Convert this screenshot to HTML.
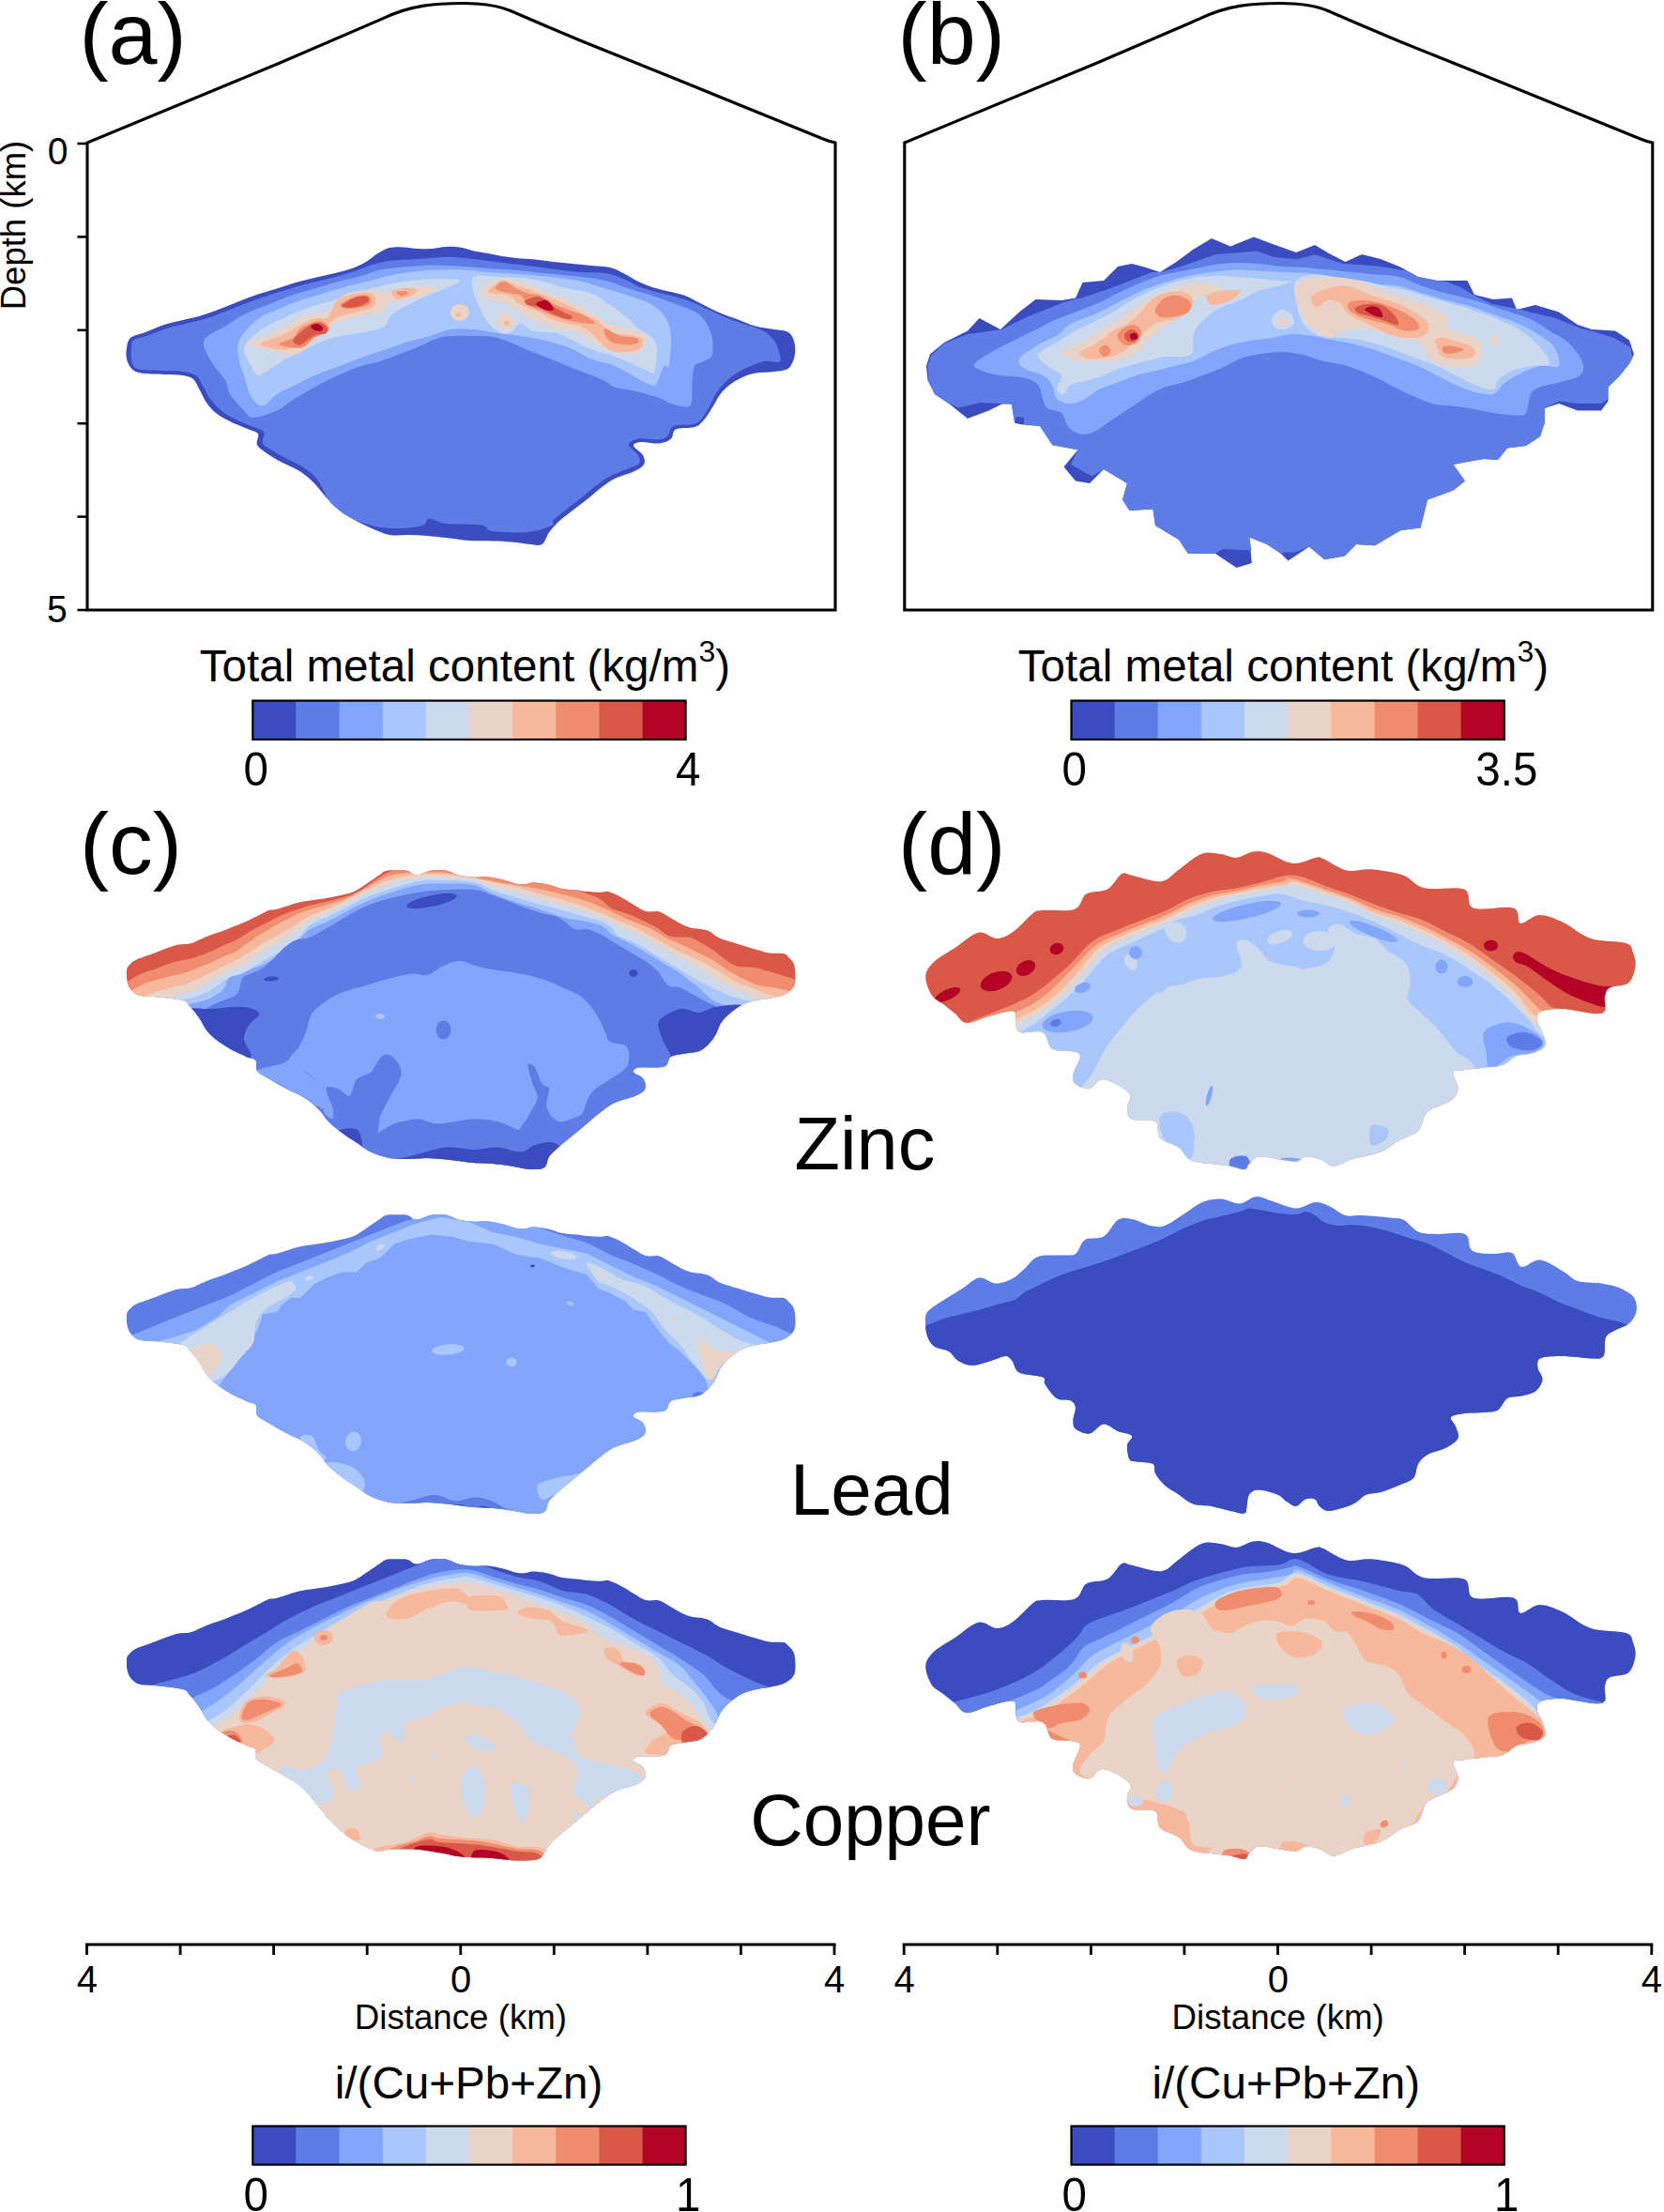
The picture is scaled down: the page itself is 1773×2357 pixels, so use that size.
<!DOCTYPE html><html><head><meta charset="utf-8"><title>Figure</title><style>html,body{margin:0;padding:0;background:#fff;}svg{display:block;}text{font-family:'Liberation Sans', Arial, Helvetica, sans-serif;fill:#000;}</style></head><body>
<svg width="1773" height="2357" viewBox="0 0 1773 2357">
<rect x="0" y="0" width="1773" height="2357" fill="#fff"/>
<g transform="translate(95,240) scale(0.5)">
<path d="M80,262C81.3,254.5 81.3,245.7 88,240C94.7,234.3 108,232.7 120,228C132,223.3 146.7,216.3 160,212C173.3,207.7 186.7,205.3 200,202C213.3,198.7 226.7,196 240,192C253.3,188 266.7,183 280,178C293.3,173 306.7,167.2 320,162C333.3,156.8 346.7,151.5 360,147C373.3,142.5 386.7,139.2 400,135C413.3,130.8 426.7,125.8 440,122C453.3,118.2 466.7,115.2 480,112C493.3,108.8 506.7,106.3 520,103C533.3,99.7 548.3,96.2 560,92C571.7,87.8 580.8,83.3 590,78C599.2,72.7 606.7,65 615,60C623.3,55 630.8,50.2 640,48C649.2,45.8 660,46.7 670,47C680,47.3 690,49.5 700,50C710,50.5 720,50.7 730,50C740,49.3 750,46.5 760,46C770,45.5 780,45.5 790,47C800,48.5 810,52.8 820,55C830,57.2 840,58.2 850,60C860,61.8 870,64.3 880,66C890,67.7 898.3,68.8 910,70C921.7,71.2 936.7,71.7 950,73C963.3,74.3 976.7,76.5 990,78C1003.3,79.5 1016.7,80.7 1030,82C1043.3,83.3 1056.7,84.7 1070,86C1083.3,87.3 1098.3,87.2 1110,90C1121.7,92.8 1130,98 1140,103C1150,108 1160,115.2 1170,120C1180,124.8 1190,128.7 1200,132C1210,135.3 1218.3,137 1230,140C1241.7,143 1258.3,145.8 1270,150C1281.7,154.2 1288.3,159.2 1300,165C1311.7,170.8 1326.7,179.2 1340,185C1353.3,190.8 1366.7,195 1380,200C1393.3,205 1406.7,211.3 1420,215C1433.3,218.7 1448.3,219.8 1460,222C1471.7,224.2 1482.8,223.3 1490,228C1497.2,232.7 1500.8,241.3 1503,250C1505.2,258.7 1505.2,270.8 1503,280C1500.8,289.2 1497.2,299.7 1490,305C1482.8,310.3 1471.7,310.3 1460,312C1448.3,313.7 1431.7,312.8 1420,315C1408.3,317.2 1399.2,320.8 1390,325C1380.8,329.2 1372.5,334.2 1365,340C1357.5,345.8 1350.8,352.5 1345,360C1339.2,367.5 1335.8,375.8 1330,385C1324.2,394.2 1316.7,407.5 1310,415C1303.3,422.5 1300,426.7 1290,430C1280,433.3 1258.3,430.8 1250,435C1241.7,439.2 1245.8,450 1240,455C1234.2,460 1225.8,463.8 1215,465C1204.2,466.2 1184.2,461.2 1175,462C1165.8,462.8 1159.2,465.3 1160,470C1160.8,474.7 1176.3,483.3 1180,490C1183.7,496.7 1185.3,504.2 1182,510C1178.7,515.8 1170.3,520 1160,525C1149.7,530 1131.7,534.2 1120,540C1108.3,545.8 1100,552.5 1090,560C1080,567.5 1070,577 1060,585C1050,593 1040,600.2 1030,608C1020,615.8 1008.3,624.2 1000,632C991.7,639.8 985.8,647 980,655C974.2,663 971.7,675.8 965,680C958.3,684.2 950.8,680.8 940,680C929.2,679.2 913.3,676.2 900,675C886.7,673.8 875,673.5 860,673C845,672.5 826.7,673.2 810,672C793.3,670.8 775,667.7 760,666C745,664.3 733.3,663 720,662C706.7,661 693.3,660.3 680,660C666.7,659.7 653.3,662.5 640,660C626.7,657.5 613.3,650.8 600,645C586.7,639.2 571.7,631.7 560,625C548.3,618.3 539.2,612.5 530,605C520.8,597.5 513.3,589.2 505,580C496.7,570.8 489.2,559.2 480,550C470.8,540.8 461.7,532.5 450,525C438.3,517.5 421.7,511.3 410,505C398.3,498.7 388.7,493.2 380,487C371.3,480.8 361.3,475 358,468C354.7,461 363,450.5 360,445C357,439.5 350,439.5 340,435C330,430.5 311.7,423.8 300,418C288.3,412.2 278.3,406.7 270,400C261.7,393.3 255.8,386.3 250,378C244.2,369.7 239.7,358.3 235,350C230.3,341.7 227.8,333 222,328C216.2,323 210.3,321.7 200,320C189.7,318.3 175,318.8 160,318C145,317.2 121.7,317.2 110,315C98.3,312.8 95,310 90,305C85,300 81.7,292.2 80,285C78.3,277.8 78.7,269.5 80,262Z" fill="#3b4cc0"/>
<path d="M90,262C90.8,255.3 89.2,249.5 95,245C100.8,240.5 113.3,239.2 125,235C136.7,230.8 151.7,224.2 165,220C178.3,215.8 191.7,213.3 205,210C218.3,206.7 231.7,204 245,200C258.3,196 271.7,191 285,186C298.3,181 311.7,175.2 325,170C338.3,164.8 351.7,159.7 365,155C378.3,150.3 391.7,146.2 405,142C418.3,137.8 431.7,133.7 445,130C458.3,126.3 471.7,123.3 485,120C498.3,116.7 511.7,113.7 525,110C538.3,106.3 552.5,102.2 565,98C577.5,93.8 587.5,88.7 600,85C612.5,81.3 623.3,78.2 640,76C656.7,73.8 680,73.3 700,72C720,70.7 743.3,68.3 760,68C776.7,67.7 785,68.7 800,70C815,71.3 833.3,74 850,76C866.7,78 883.3,80 900,82C916.7,84 933.3,85.8 950,88C966.7,90.2 983.3,93 1000,95C1016.7,97 1033.3,98.8 1050,100C1066.7,101.2 1085,99.5 1100,102C1115,104.5 1128.3,110.3 1140,115C1151.7,119.7 1160,125.8 1170,130C1180,134.2 1188.3,136.7 1200,140C1211.7,143.3 1226.7,146.3 1240,150C1253.3,153.7 1266.7,157 1280,162C1293.3,167 1306.7,174 1320,180C1333.3,186 1346.7,192.7 1360,198C1373.3,203.3 1388.3,208 1400,212C1411.7,216 1421.7,218.2 1430,222C1438.3,225.8 1444.2,229.5 1450,235C1455.8,240.5 1461.3,245.8 1465,255C1468.7,264.2 1476.2,284.2 1472,290C1467.8,295.8 1450.3,288.3 1440,290C1429.7,291.7 1420,295.8 1410,300C1400,304.2 1389.2,309.2 1380,315C1370.8,320.8 1362.5,327.5 1355,335C1347.5,342.5 1340.8,350.8 1335,360C1329.2,369.2 1325.8,380.3 1320,390C1314.2,399.7 1306.7,412.2 1300,418C1293.3,423.8 1289.2,423.3 1280,425C1270.8,426.7 1253,423.8 1245,428C1237,432.2 1237.8,445.2 1232,450C1226.2,454.8 1220.3,456.2 1210,457C1199.7,457.8 1180,453.2 1170,455C1160,456.8 1150,462.2 1150,468C1150,473.8 1166.3,483.3 1170,490C1173.7,496.7 1175.3,503.3 1172,508C1168.7,512.7 1160.3,513.5 1150,518C1139.7,522.5 1121.7,528.8 1110,535C1098.3,541.2 1090,547.5 1080,555C1070,562.5 1060,572 1050,580C1040,588 1030,595 1020,603C1010,611 995.8,621.8 990,628C984.2,634.2 994.2,635.7 985,640C975.8,644.3 955.8,652 935,654C914.2,656 876.7,654.5 860,652C843.3,649.5 851.7,641.7 835,639C818.3,636.3 778.3,638.3 760,636C741.7,633.7 733.3,624.3 725,625C716.7,625.7 720.8,636.5 710,640C699.2,643.5 676.7,645.7 660,646C643.3,646.3 626.7,645.5 610,642C593.3,638.5 573.3,631.2 560,625C546.7,618.8 538.3,611.7 530,605C521.7,598.3 517.5,595.8 510,585C502.5,574.2 494.2,551.7 485,540C475.8,528.3 465.8,522.2 455,515C444.2,507.8 430.8,502.8 420,497C409.2,491.2 398.3,485.3 390,480C381.7,474.7 373,471.7 370,465C367,458.3 376.2,446.2 372,440C367.8,433.8 356.2,433 345,428C333.8,423 316.2,416 305,410C293.8,404 285.8,398.7 278,392C270.2,385.3 264,378.3 258,370C252,361.7 247,350.3 242,342C237,333.7 235,325 228,320C221,315 211.3,313.7 200,312C188.7,310.3 175,310.7 160,310C145,309.3 120.8,309.7 110,308C99.2,306.3 98.3,303.8 95,300C91.7,296.2 90.8,291.3 90,285C89.2,278.7 89.2,268.7 90,262Z" fill="#5d7ce6"/>
<path d="M245,245C250,232.5 275.8,224.2 290,215C304.2,205.8 315,197.5 330,190C345,182.5 363.3,176.7 380,170C396.7,163.3 413.3,155.8 430,150C446.7,144.2 463.3,140 480,135C496.7,130 513.3,124.5 530,120C546.7,115.5 565,112.2 580,108C595,103.8 603.3,98.3 620,95C636.7,91.7 660,89.7 680,88C700,86.3 720,85 740,85C760,85 781.7,86.8 800,88C818.3,89.2 833.3,90.8 850,92C866.7,93.2 883.3,93.7 900,95C916.7,96.3 933.3,98.3 950,100C966.7,101.7 983.3,103.3 1000,105C1016.7,106.7 1033.3,107.8 1050,110C1066.7,112.2 1083.3,113.8 1100,118C1116.7,122.2 1133.3,129.7 1150,135C1166.7,140.3 1183.3,144.5 1200,150C1216.7,155.5 1233.3,161.3 1250,168C1266.7,174.7 1287.5,179.7 1300,190C1312.5,200.3 1320.3,215.8 1325,230C1329.7,244.2 1330.5,265 1328,275C1325.5,285 1316.3,285.8 1310,290C1303.7,294.2 1294.2,291.7 1290,300C1285.8,308.3 1286.7,325.8 1285,340C1283.3,354.2 1287.5,378.3 1280,385C1272.5,391.7 1250,382.5 1240,380C1230,377.5 1231.7,374.2 1220,370C1208.3,365.8 1186.7,359.2 1170,355C1153.3,350.8 1132.5,349.2 1120,345C1107.5,340.8 1111.7,337.5 1095,330C1078.3,322.5 1045,310 1020,300C995,290 970,280 945,270C920,260 890.8,245.7 870,240C849.2,234.3 836.7,236.7 820,236C803.3,235.3 783.3,235 770,236C756.7,237 751.7,238 740,242C728.3,246 713.3,254.5 700,260C686.7,265.5 673.3,270 660,275C646.7,280 633.3,285.8 620,290C606.7,294.2 595,295 580,300C565,305 546.7,312.5 530,320C513.3,327.5 496.7,335.8 480,345C463.3,354.2 443.3,366.7 430,375C416.7,383.3 413.3,389.2 400,395C386.7,400.8 361.7,410 350,410C338.3,410 338.3,403.3 330,395C321.7,386.7 306.7,370.8 300,360C293.3,349.2 296.7,341.7 290,330C283.3,318.3 267.5,304.2 260,290C252.5,275.8 240,257.5 245,245Z" fill="#82a6fb"/>
<path d="M320,245C326.7,230 346.7,210.8 360,200C373.3,189.2 385,186.7 400,180C415,173.3 433.3,165.8 450,160C466.7,154.2 483.3,150 500,145C516.7,140 533.3,134.5 550,130C566.7,125.5 583.3,122.2 600,118C616.7,113.8 633.3,108.3 650,105C666.7,101.7 683.3,99.7 700,98C716.7,96.3 733.3,95.5 750,95C766.7,94.5 783.3,94.2 800,95C816.7,95.8 833.3,98.7 850,100C866.7,101.3 883.3,101.8 900,103C916.7,104.2 933.3,105.5 950,107C966.7,108.5 983.3,109.8 1000,112C1016.7,114.2 1033.3,116.2 1050,120C1066.7,123.8 1083.3,130 1100,135C1116.7,140 1133.3,144.2 1150,150C1166.7,155.8 1186.7,161.7 1200,170C1213.3,178.3 1223.3,188.3 1230,200C1236.7,211.7 1239.2,223.3 1240,240C1240.8,256.7 1237.5,290 1235,300C1232.5,310 1229.2,294.2 1225,300C1220.8,305.8 1215,328.3 1210,335C1205,341.7 1210,345.8 1195,340C1180,334.2 1140.8,309.2 1120,300C1099.2,290.8 1086.7,291.7 1070,285C1053.3,278.3 1040.8,267.5 1020,260C999.2,252.5 970,245 945,240C920,235 890.8,233 870,230C849.2,227 836.7,223.3 820,222C803.3,220.7 786.7,219.3 770,222C753.3,224.7 735,233.7 720,238C705,242.3 693.3,244 680,248C666.7,252 653.3,257.5 640,262C626.7,266.5 613.3,270.3 600,275C586.7,279.7 573.3,285 560,290C546.7,295 533.3,300 520,305C506.7,310 493.3,314.2 480,320C466.7,325.8 453.3,333.3 440,340C426.7,346.7 411.7,352.5 400,360C388.3,367.5 379.2,384.2 370,385C360.8,385.8 351.7,375.8 345,365C338.3,354.2 334.2,332.5 330,320C325.8,307.5 321.7,302.5 320,290C318.3,277.5 313.3,260 320,245Z" fill="#aac7fd"/>
<path d="M330,265C330,255 336.7,248.3 345,240C353.3,231.7 367.5,222.5 380,215C392.5,207.5 405,201.7 420,195C435,188.3 453.3,180.8 470,175C486.7,169.2 503.3,165 520,160C536.7,155 553.3,150 570,145C586.7,140 603.3,134.2 620,130C636.7,125.8 653.3,122.5 670,120C686.7,117.5 705,115.8 720,115C735,114.2 748.3,114.5 760,115C771.7,115.5 790,114.7 790,118C790,121.3 771.7,129.7 760,135C748.3,140.3 731.7,145 720,150C708.3,155 700,160 690,165C680,170 668.3,175 660,180C651.7,185 645,189.2 640,195C635,200.8 636.7,210 630,215C623.3,220 611.7,222.2 600,225C588.3,227.8 573.3,229.5 560,232C546.7,234.5 533.3,236.2 520,240C506.7,243.8 493.3,249.2 480,255C466.7,260.8 451.7,269.2 440,275C428.3,280.8 420,284.2 410,290C400,295.8 388.3,305 380,310C371.7,315 365.8,321.7 360,320C354.2,318.3 350,309.2 345,300C340,290.8 330,275 330,265Z" fill="#cdd9ec"/>
<path d="M820,110C828.3,104.2 849.2,109.2 870,110C890.8,110.8 920,110.8 945,115C970,119.2 999.2,130 1020,135C1040.8,140 1055,139.2 1070,145C1085,150.8 1097.5,161.7 1110,170C1122.5,178.3 1135,186.7 1145,195C1155,203.3 1161.7,213.3 1170,220C1178.3,226.7 1188.3,228.3 1195,235C1201.7,241.7 1208.3,247.5 1210,260C1211.7,272.5 1207.5,301.3 1205,310C1202.5,318.7 1209.2,317 1195,312C1180.8,307 1140.8,287.8 1120,280C1099.2,272.2 1086.7,271.7 1070,265C1053.3,258.3 1032.5,245.8 1020,240C1007.5,234.2 1007.5,232.5 995,230C982.5,227.5 957.5,228.3 945,225C932.5,221.7 928.3,209.2 920,210C911.7,210.8 903.3,227.5 895,230C886.7,232.5 878.3,230 870,225C861.7,220 853.3,213.3 845,200C836.7,186.7 824.2,160 820,145C815.8,130 811.7,115.8 820,110Z" fill="#cdd9ec"/>
<ellipse cx="790" cy="186" rx="20" ry="18" transform="rotate(0 790 186)" fill="#ead4c8"/>
<ellipse cx="786" cy="190" rx="6" ry="5" transform="rotate(0 786 190)" fill="#f7b89c"/>
<path d="M340,250C343.3,245.8 368.3,240 380,235C391.7,230 400.8,225 410,220C419.2,215 426.7,209.6 435,205C443.3,200.4 451.7,195 460,192.5C468.3,190 476.7,191.2 485,190C493.3,188.8 501.7,190.8 510,185C518.3,179.2 526.7,162.1 535,155C543.3,147.9 548.3,145.4 560,142.5C571.7,139.6 594.2,137.1 605,137.5C615.8,137.9 620,140.4 625,145C630,149.6 635,158.3 635,165C635,171.7 633.3,180.4 625,185C616.7,189.6 600,189.2 585,192.5C570,195.8 547.5,200.4 535,205C522.5,209.6 518.3,214.2 510,220C501.7,225.8 493.3,232.5 485,240C476.7,247.5 468.3,259.2 460,265C451.7,270.8 445,274.2 435,275C425,275.8 412.5,272.5 400,270C387.5,267.5 370,263.3 360,260C350,256.7 336.7,254.2 340,250Z" fill="#ead4c8"/>
<path d="M620,150C623.3,145.8 636.7,143 650,140C663.3,137 685,133.7 700,132C715,130.3 736.7,127.3 740,130C743.3,132.7 728.3,143.8 720,148C711.7,152.2 701.7,152.7 690,155C678.3,157.3 660,160.3 650,162C640,163.7 635,167 630,165C625,163 616.7,154.2 620,150Z" fill="#ead4c8"/>
<path d="M835,140C839.2,133.3 855.8,118.3 870,115C884.2,111.7 903.3,115.8 920,120C936.7,124.2 953.3,133.3 970,140C986.7,146.7 1003.3,152.5 1020,160C1036.7,167.5 1055,176.7 1070,185C1085,193.3 1091.7,202.5 1110,210C1128.3,217.5 1167.5,222.5 1180,230C1192.5,237.5 1188.3,247.5 1185,255C1181.7,262.5 1175,274.2 1160,275C1145,275.8 1114.2,267.5 1095,260C1075.8,252.5 1061.7,236.7 1045,230C1028.3,223.3 1011.7,225 995,220C978.3,215 959.2,206.7 945,200C930.8,193.3 920.8,185.8 910,180C899.2,174.2 890.8,169.2 880,165C869.2,160.8 852.5,159.2 845,155C837.5,150.8 830.8,146.7 835,140Z" fill="#ead4c8"/>
<path d="M880,185C884.2,182.5 890.8,185.8 895,190C899.2,194.2 905,205 905,210C905,215 899.2,218.7 895,220C890.8,221.3 884.2,220.5 880,218C875.8,215.5 870,210.5 870,205C870,199.5 875.8,187.5 880,185Z" fill="#ead4c8"/>
<ellipse cx="890" cy="209" rx="6" ry="6" transform="rotate(0 890 209)" fill="#f7b89c"/>
<path d="M365,252.5C368.3,247.9 396.7,241.2 410,235C423.3,228.8 434.2,220.8 445,215C455.8,209.2 465,202.9 475,200C485,197.1 498.3,200 505,197.5C511.7,195 510.8,191.2 515,185C519.2,178.8 522.5,166.2 530,160C537.5,153.8 549.2,150.2 560,147.5C570.8,144.8 586.7,142.8 595,144C603.3,145.2 608.3,149.8 610,155C611.7,160.2 611.7,170 605,175C598.3,180 582.5,181.7 570,185C557.5,188.3 540,190.8 530,195C520,199.2 517.5,204.2 510,210C502.5,215.8 495,222.5 485,230C475,237.5 460.8,249.2 450,255C439.2,260.8 430,263.8 420,265C410,266.2 399.2,264.6 390,262.5C380.8,260.4 361.7,257.1 365,252.5Z" fill="#f7b89c"/>
<path d="M645,140C648.3,136.1 665.8,134.4 675,134C684.2,133.6 698.3,134.8 700,137.5C701.7,140.2 692.5,146.7 685,150C677.5,153.3 661.7,159.2 655,157.5C648.3,155.8 641.7,143.9 645,140Z" fill="#f7b89c"/>
<path d="M855,135C859.2,130.4 870.8,118.8 880,117.5C889.2,116.2 899.2,123.8 910,127.5C920.8,131.2 932.5,135.4 945,140C957.5,144.6 972.5,150 985,155C997.5,160 1008.3,164.2 1020,170C1031.7,175.8 1045,185 1055,190C1065,195 1073.3,195.8 1080,200C1086.7,204.2 1088.3,210 1095,215C1101.7,220 1109.2,226.7 1120,230C1130.8,233.3 1150,232.5 1160,235C1170,237.5 1178.3,240 1180,245C1181.7,250 1180,260.8 1170,265C1160,269.2 1132.5,271.7 1120,270C1107.5,268.3 1103.3,261.7 1095,255C1086.7,248.3 1078.3,236.7 1070,230C1061.7,223.3 1053.3,218.3 1045,215C1036.7,211.7 1030,212.5 1020,210C1010,207.5 995,204.2 985,200C975,195.8 970.8,190 960,185C949.2,180 930.8,175.8 920,170C909.2,164.2 905.8,154.2 895,150C884.2,145.8 861.7,147.5 855,145C848.3,142.5 850.8,139.6 855,135Z" fill="#f7b89c"/>
<path d="M405,252.5C406.7,249.2 427.5,245.4 435,240C442.5,234.6 441.7,225.8 450,220C458.3,214.2 475.8,206.7 485,205C494.2,203.3 500.8,206.7 505,210C509.2,213.3 514.2,220 510,225C505.8,230 489.2,234.2 480,240C470.8,245.8 464.2,256.7 455,260C445.8,263.3 433.3,261.2 425,260C416.7,258.8 403.3,255.8 405,252.5Z" fill="#f18d6f"/>
<path d="M535,170C537.5,165.8 555,155.8 565,152.5C575,149.2 589.2,147.9 595,150C600.8,152.1 602.5,160.8 600,165C597.5,169.2 588.3,172.9 580,175C571.7,177.1 557.5,178.3 550,177.5C542.5,176.7 532.5,174.2 535,170Z" fill="#f18d6f"/>
<path d="M655,142.5C655.8,140.7 665.8,139.6 670,140C674.2,140.4 680.8,143.2 680,145C679.2,146.8 669.2,151.4 665,151C660.8,150.6 654.2,144.3 655,142.5Z" fill="#f18d6f"/>
<path d="M865,135C863.3,130.8 877.5,120 885,120C892.5,120 901.7,130.8 910,135C918.3,139.2 926.7,142.5 935,145C943.3,147.5 951.7,146.7 960,150C968.3,153.3 975,160 985,165C995,170 1009.2,175.8 1020,180C1030.8,184.2 1040.8,185.8 1050,190C1059.2,194.2 1071.7,201.7 1075,205C1078.3,208.3 1077.5,210 1070,210C1062.5,210 1042.5,207.5 1030,205C1017.5,202.5 1005,198.3 995,195C985,191.7 980,189.2 970,185C960,180.8 943.3,175.8 935,170C926.7,164.2 926.7,154.2 920,150C913.3,145.8 904.2,147.5 895,145C885.8,142.5 866.7,139.2 865,135Z" fill="#f18d6f"/>
<path d="M1100,220C1105,220 1119.2,231.7 1130,235C1140.8,238.3 1158.3,237.5 1165,240C1171.7,242.5 1172.5,247.5 1170,250C1167.5,252.5 1159.2,255 1150,255C1140.8,255 1123.3,253.3 1115,250C1106.7,246.7 1102.5,240 1100,235C1097.5,230 1095,220 1100,220Z" fill="#f18d6f"/>
<path d="M435,245C436.7,239.2 451.7,226.2 460,220C468.3,213.8 477.5,208.3 485,207.5C492.5,206.7 501.7,211.2 505,215C508.3,218.8 509.2,226.7 505,230C500.8,233.3 489.2,230.8 480,235C470.8,239.2 457.5,253.3 450,255C442.5,256.7 433.3,250.8 435,245Z" fill="#d95847"/>
<path d="M540,170C542.5,166.5 556.7,158.2 565,155C573.3,151.8 585,149.8 590,151C595,152.2 597.5,158.9 595,162.5C592.5,166.1 582.5,170.2 575,172.5C567.5,174.8 555.8,176.4 550,176C544.2,175.6 537.5,173.5 540,170Z" fill="#d95847"/>
<path d="M930,160C934.2,157.1 950.8,150.8 960,152.5C969.2,154.2 976.7,164.6 985,170C993.3,175.4 1002.5,180.8 1010,185C1017.5,189.2 1028.3,192.5 1030,195C1031.7,197.5 1026.7,200.8 1020,200C1013.3,199.2 1000,194.2 990,190C980,185.8 969.2,178.3 960,175C950.8,171.7 940,172.5 935,170C930,167.5 925.8,162.9 930,160Z" fill="#d95847"/>
<path d="M472.5,215C473.3,212.7 480.8,209.6 485,210C489.2,210.4 495.8,215 497.5,217.5C499.2,220 497.9,223.9 495,225C492.1,226.1 483.8,225.7 480,224C476.2,222.3 471.7,217.3 472.5,215Z" fill="#b40426"/>
<path d="M952.5,167.5C953.3,164.2 968.8,157.9 975,160C981.2,162.1 990.8,176.7 990,180C989.2,183.3 976.2,182.1 970,180C963.8,177.9 951.7,170.8 952.5,167.5Z" fill="#b40426"/>
</g>
<g transform="translate(941,240) scale(0.5)">
<path d="M92,300 100,275 130,250 180,225 205,198 250,222 290,185 325,158 380,160 410,155 425,122 470,118 500,88 530,82 560,90 590,100 625,78 660,52 700,28 740,45 790,25 830,40 880,58 920,42 950,60 985,78 1020,62 1060,72 1100,88 1140,110 1180,118 1245,118 1260,148 1300,158 1340,155 1350,180 1370,175 1390,170 1440,185 1480,212 1510,222 1560,225 1590,245 1600,275 1590,295 1570,320 1545,345 1545,375 1530,395 1480,395 1440,380 1410,390 1410,420 1400,450 1370,470 1330,475 1310,500 1280,498 1240,505 1215,510 1240,545 1215,565 1160,585 1145,645 1103,650 1048,682.5 1008,680 983,705 940.5,712.5 908,685 863,715 848,700 818,680 780.5,665 785.5,720 753,730 708,700 650,700 630,670 580,640 575,605 525,608 510,585 520,550 470,520 440,550 410,545 385,515 415,478.6 361,468.5 334,428 293.8,424.7 280.3,421.3 273.6,381 253.4,381 225,395 180,412 140,380 110,360 95,330Z" fill="#3b4cc0"/>
<path d="M95,300 102,278 130,252 180,232 253,222 303,197 378,167 410,157 423,155 483,135 573,100 590,100 628,90 708,62.5 798,55 832,68 882,72.5 919.5,62.5 982,82.5 992,82.5 1057,87.5 1117,97.5 1140,110 1180,118 1199.5,120 1232,132.5 1244.5,140 1260,150 1297,167.5 1347,177.5 1360,180 1377,185 1432,197.5 1487,220 1509.5,225 1557,240 1592,260 1597,282.5 1590,295 1570,320 1545,345 1543,372 1530,380 1480,380 1440,375 1410,390 1410,420 1400,450 1370,470 1330,475 1310,500 1280,498 1240,505 1215,510 1240,545 1215,565 1160,585 1145,645 1103,650 1048,682.5 1008,680 983,705 940.5,712.5 908,685 878,697 853,697 848,700 818,680 780.5,665 785,693 723,690 708,700 650,700 630,670 580,640 575,605 525,608 510,585 520,550 470,520 445,535 400,510 415,478.6 361,468.5 334,428 300,424 300,410 284,408 280.3,421.3 273.6,381 253,380 206,378 161,389 140,380 110,360 97,330Z" fill="#5d7ce6"/>
<path d="M195,295C200,287.5 224.2,274.2 240,265C255.8,255.8 275,247.5 290,240C305,232.5 316.7,226.7 330,220C343.3,213.3 356.7,205.8 370,200C383.3,194.2 395,190.8 410,185C425,179.2 443.3,172.5 460,165C476.7,157.5 493.3,147.8 510,140C526.7,132.2 545,123.8 560,118C575,112.2 585,108.8 600,105C615,101.2 633.3,98.3 650,95C666.7,91.7 683.3,87.5 700,85C716.7,82.5 733.3,80.5 750,80C766.7,79.5 783.3,80.7 800,82C816.7,83.3 833.3,86.7 850,88C866.7,89.3 883.3,88.8 900,90C916.7,91.2 933.3,93.3 950,95C966.7,96.7 983.3,98.3 1000,100C1016.7,101.7 1033.3,103.3 1050,105C1066.7,106.7 1083.3,105.8 1100,110C1116.7,114.2 1133.3,124.2 1150,130C1166.7,135.8 1181.7,140 1200,145C1218.3,150 1240,154.2 1260,160C1280,165.8 1300,173.3 1320,180C1340,186.7 1363.3,192.5 1380,200C1396.7,207.5 1406.7,216.7 1420,225C1433.3,233.3 1448.3,239.2 1460,250C1471.7,260.8 1485.8,278.3 1490,290C1494.2,301.7 1493.3,312.5 1485,320C1476.7,327.5 1454.2,330.8 1440,335C1425.8,339.2 1410,340.8 1400,345C1390,349.2 1385,350.8 1380,360C1375,369.2 1375,392.5 1370,400C1365,407.5 1361.7,405 1350,405C1338.3,405 1316.7,402.5 1300,400C1283.3,397.5 1265,392.5 1250,390C1235,387.5 1223.3,386.7 1210,385C1196.7,383.3 1185,384.2 1170,380C1155,375.8 1135,366.7 1120,360C1105,353.3 1093.3,346.7 1080,340C1066.7,333.3 1055,326.7 1040,320C1025,313.3 1006.7,305 990,300C973.3,295 956.7,294.2 940,290C923.3,285.8 905,278.3 890,275C875,271.7 865,270 850,270C835,270 815,272.5 800,275C785,277.5 773.3,280 760,285C746.7,290 733.3,299.2 720,305C706.7,310.8 693.3,315 680,320C666.7,325 653.3,330.8 640,335C626.7,339.2 611.7,340.8 600,345C588.3,349.2 580,354.2 570,360C560,365.8 550,373.3 540,380C530,386.7 520,393.3 510,400C500,406.7 490,413.3 480,420C470,426.7 460,435.8 450,440C440,444.2 429.2,446.7 420,445C410.8,443.3 401.7,437.5 395,430C388.3,422.5 387.5,406.7 380,400C372.5,393.3 356.7,395 350,390C343.3,385 343.3,378.3 340,370C336.7,361.7 336.7,347.5 330,340C323.3,332.5 313.3,328.3 300,325C286.7,321.7 265,322.5 250,320C235,317.5 219.2,314.2 210,310C200.8,305.8 190,302.5 195,295Z" fill="#82a6fb"/>
<path d="M290,285C295,276.7 316.7,263.3 330,255C343.3,246.7 358.3,242.5 370,235C381.7,227.5 386.7,217.5 400,210C413.3,202.5 433.3,197.5 450,190C466.7,182.5 483.3,173.3 500,165C516.7,156.7 533.3,147.2 550,140C566.7,132.8 583.3,127.3 600,122C616.7,116.7 633.3,111.7 650,108C666.7,104.3 683.3,102.2 700,100C716.7,97.8 733.3,95.5 750,95C766.7,94.5 783.3,96.2 800,97C816.7,97.8 833.3,99.2 850,100C866.7,100.8 883.3,100.7 900,102C916.7,103.3 933.3,105.8 950,108C966.7,110.2 983.3,112.2 1000,115C1016.7,117.8 1033.3,122.5 1050,125C1066.7,127.5 1083.3,126.7 1100,130C1116.7,133.3 1133.3,140 1150,145C1166.7,150 1183.3,155.5 1200,160C1216.7,164.5 1233.3,167 1250,172C1266.7,177 1283.3,184 1300,190C1316.7,196 1333.3,200.5 1350,208C1366.7,215.5 1386.7,226.3 1400,235C1413.3,243.7 1423.3,249.2 1430,260C1436.7,270.8 1445,293.3 1440,300C1435,306.7 1415,296.7 1400,300C1385,303.3 1363.3,313.3 1350,320C1336.7,326.7 1328.3,333.3 1320,340C1311.7,346.7 1310,357.5 1300,360C1290,362.5 1273.3,358.3 1260,355C1246.7,351.7 1233.3,345.8 1220,340C1206.7,334.2 1193.3,326.7 1180,320C1166.7,313.3 1153.3,305.8 1140,300C1126.7,294.2 1113.3,290 1100,285C1086.7,280 1075,275 1060,270C1045,265 1026.7,259.2 1010,255C993.3,250.8 976.7,248.3 960,245C943.3,241.7 925,237.2 910,235C895,232.8 883.3,231.2 870,232C856.7,232.8 843.3,237.8 830,240C816.7,242.2 805,242.5 790,245C775,247.5 755,250.8 740,255C725,259.2 713.3,264.2 700,270C686.7,275.8 673.3,285 660,290C646.7,295 633.3,296.7 620,300C606.7,303.3 593.3,306.7 580,310C566.7,313.3 553.3,315.8 540,320C526.7,324.2 513.3,330 500,335C486.7,340 471.7,344.2 460,350C448.3,355.8 440,365 430,370C420,375 410,380 400,380C390,380 376.7,376.7 370,370C363.3,363.3 365,348.3 360,340C355,331.7 350,325.8 340,320C330,314.2 308.3,310.8 300,305C291.7,299.2 285,293.3 290,285Z" fill="#aac7fd"/>
<path d="M330,275C333.3,266.7 356.7,258.3 370,250C383.3,241.7 396.7,232.5 410,225C423.3,217.5 436.7,211.7 450,205C463.3,198.3 476.7,192.5 490,185C503.3,177.5 516.7,167.5 530,160C543.3,152.5 556.7,145.8 570,140C583.3,134.2 595,129.7 610,125C625,120.3 641.7,114.8 660,112C678.3,109.2 700,108 720,108C740,108 760,110.3 780,112C800,113.7 825,116.7 840,118C855,119.3 870,118 870,120C870,122 851.7,126.7 840,130C828.3,133.3 813.3,135 800,140C786.7,145 773.3,154.2 760,160C746.7,165.8 731.7,169.2 720,175C708.3,180.8 698.3,188.3 690,195C681.7,201.7 675,207.5 670,215C665,222.5 661.7,230.8 660,240C658.3,249.2 663.3,263.3 660,270C656.7,276.7 650,278.3 640,280C630,281.7 613.3,278.3 600,280C586.7,281.7 573.3,286.7 560,290C546.7,293.3 533.3,295.8 520,300C506.7,304.2 493.3,310 480,315C466.7,320 453.3,325.8 440,330C426.7,334.2 409.2,335 400,340C390.8,345 390,358.3 385,360C380,361.7 370.8,356.7 370,350C369.2,343.3 383.3,328.3 380,320C376.7,311.7 358.3,307.5 350,300C341.7,292.5 326.7,283.3 330,275Z" fill="#cdd9ec"/>
<path d="M880,118C886.7,108.8 905,106 920,105C935,104 953.3,109.8 970,112C986.7,114.2 1003.3,115 1020,118C1036.7,121 1053.3,126.3 1070,130C1086.7,133.7 1103.3,135.8 1120,140C1136.7,144.2 1153.3,150 1170,155C1186.7,160 1203.3,165 1220,170C1236.7,175 1253.3,179.2 1270,185C1286.7,190.8 1305,198.3 1320,205C1335,211.7 1346.7,215.8 1360,225C1373.3,234.2 1390,248.3 1400,260C1410,271.7 1423.3,288.3 1420,295C1416.7,301.7 1393.3,297.5 1380,300C1366.7,302.5 1351.7,305 1340,310C1328.3,315 1316.7,323.3 1310,330C1303.3,336.7 1308.3,348.3 1300,350C1291.7,351.7 1273.3,345 1260,340C1246.7,335 1233.3,326.7 1220,320C1206.7,313.3 1193.3,305.8 1180,300C1166.7,294.2 1153.3,290 1140,285C1126.7,280 1113.3,275 1100,270C1086.7,265 1073.3,259.2 1060,255C1046.7,250.8 1033.3,247.5 1020,245C1006.7,242.5 993.3,241.2 980,240C966.7,238.8 951.7,240.5 940,238C928.3,235.5 918.3,231.3 910,225C901.7,218.7 895,210.8 890,200C885,189.2 881.7,173.7 880,160C878.3,146.3 873.3,127.2 880,118Z" fill="#cdd9ec"/>
<path d="M830,195C833,189.2 843.3,180.8 850,180C856.7,179.2 865.8,185 870,190C874.2,195 877.5,204.7 875,210C872.5,215.3 862.2,221.2 855,222C847.8,222.8 836.2,219.5 832,215C827.8,210.5 827,200.8 830,195Z" fill="#cdd9ec"/>
<path d="M380,270C383.3,264.2 406.7,257 420,250C433.3,243 446.7,236.3 460,228C473.3,219.7 486.7,208.8 500,200C513.3,191.2 526.7,183.3 540,175C553.3,166.7 566.7,156.7 580,150C593.3,143.3 606.7,139.2 620,135C633.3,130.8 646.7,126.7 660,125C673.3,123.3 690,123.3 700,125C710,126.7 721.7,130.8 720,135C718.3,139.2 700,145.8 690,150C680,154.2 668.3,155 660,160C651.7,165 646.7,173.3 640,180C633.3,186.7 626.7,194.2 620,200C613.3,205.8 606.7,210 600,215C593.3,220 586.7,224.2 580,230C573.3,235.8 566.7,243.3 560,250C553.3,256.7 548.3,264.2 540,270C531.7,275.8 521.7,281.7 510,285C498.3,288.3 483.3,289.2 470,290C456.7,290.8 441.7,290.8 430,290C418.3,289.2 408.3,288.3 400,285C391.7,281.7 376.7,275.8 380,270Z" fill="#ead4c8"/>
<path d="M882,125C897,112.1 948.7,109.2 982,112.5C1015.3,115.8 1052.8,135.4 1082,145C1111.2,154.6 1137,161.7 1157,170C1177,178.3 1194.5,186.7 1202,195C1209.5,203.3 1192,212.5 1202,220C1212,227.5 1249.5,232.5 1262,240C1274.5,247.5 1277.8,255 1277,265C1276.2,275 1272.8,295 1257,300C1241.2,305 1201.2,303.3 1182,295C1162.8,286.7 1156.2,259.2 1142,250C1127.8,240.8 1115.3,245 1097,240C1078.7,235 1051.2,222.5 1032,220C1012.8,217.5 995.3,221.7 982,225C968.7,228.3 962.8,240.8 952,240C941.2,239.2 927,228.3 917,220C907,211.7 897.8,205.8 892,190C886.2,174.2 867,137.9 882,125Z" fill="#ead4c8"/>
<ellipse cx="1303" cy="245" rx="8" ry="13" transform="rotate(-20 1303 245)" fill="#ead4c8"/>
<ellipse cx="852" cy="205" rx="9" ry="9" transform="rotate(0 852 205)" fill="#ead4c8"/>
<path d="M420,270C425,264.3 448.3,255.5 460,248C471.7,240.5 480,231.3 490,225C500,218.7 510,216.7 520,210C530,203.3 541.7,193.3 550,185C558.3,176.7 561.7,166.7 570,160C578.3,153.3 588.3,148 600,145C611.7,142 630,139.5 640,142C650,144.5 658.3,152.8 660,160C661.7,167.2 656.7,178.3 650,185C643.3,191.7 631.7,195.8 620,200C608.3,204.2 590.8,205 580,210C569.2,215 563.3,222.5 555,230C546.7,237.5 539.2,247.5 530,255C520.8,262.5 511.7,270 500,275C488.3,280 471.7,283.8 460,285C448.3,286.2 436.7,284.5 430,282C423.3,279.5 415,275.7 420,270Z" fill="#f7b89c"/>
<path d="M690,150C693.3,145 708.3,141.7 720,140C731.7,138.3 756.7,136.7 760,140C763.3,143.3 750,155 740,160C730,165 708.3,171.7 700,170C691.7,168.3 686.7,155 690,150Z" fill="#f7b89c"/>
<path d="M914.5,150C920.3,142.9 944.1,135.8 957,132.5C969.9,129.2 977.8,127.1 992,130C1006.2,132.9 1025.3,144.2 1042,150C1058.7,155.8 1077,159.2 1092,165C1107,170.8 1120.3,177.5 1132,185C1143.7,192.5 1158.7,201.7 1162,210C1165.3,218.3 1160.3,230 1152,235C1143.7,240 1125.3,240.8 1112,240C1098.7,239.2 1085.3,235 1072,230C1058.7,225 1045.3,216.7 1032,210C1018.7,203.3 1002,197.5 992,190C982,182.5 979.5,170 972,165C964.5,160 955.3,158.3 947,160C938.7,161.7 927.4,176.7 922,175C916.6,173.3 908.7,157.1 914.5,150Z" fill="#f7b89c"/>
<path d="M1177,245C1178.7,240.8 1180.3,238.3 1192,240C1203.7,241.7 1235.3,250 1247,255C1258.7,260 1261.2,265.4 1262,270C1262.8,274.6 1258.7,280 1252,282.5C1245.3,285 1232,285.4 1222,285C1212,284.6 1198.7,283.3 1192,280C1185.3,276.7 1184.5,270.8 1182,265C1179.5,259.2 1175.3,249.2 1177,245Z" fill="#f7b89c"/>
<path d="M580,180C581.7,173.3 591.7,160 600,155C608.3,150 620.8,148.3 630,150C639.2,151.7 651.7,159.2 655,165C658.3,170.8 655.8,180 650,185C644.2,190 630,193.3 620,195C610,196.7 596.7,197.5 590,195C583.3,192.5 578.3,186.7 580,180Z" fill="#f18d6f"/>
<path d="M460,265C460.8,260.8 470.8,254.2 475,255C479.2,255.8 485.8,265.8 485,270C484.2,274.2 474.2,280.8 470,280C465.8,279.2 459.2,269.2 460,265Z" fill="#f18d6f"/>
<path d="M505,225C510,220.3 522.5,212 530,212C537.5,212 548.3,218.7 550,225C551.7,231.3 545.8,245 540,250C534.2,255 521.7,256.7 515,255C508.3,253.3 501.7,245 500,240C498.3,235 500,229.7 505,225Z" fill="#f18d6f"/>
<path d="M992,165C996.2,160.8 1011.2,160 1022,160C1032.8,160 1044.5,161.7 1057,165C1069.5,168.3 1084.5,174.2 1097,180C1109.5,185.8 1124.5,193.3 1132,200C1139.5,206.7 1145.3,215.8 1142,220C1138.7,224.2 1123.7,226.7 1112,225C1100.3,223.3 1085.3,214.2 1072,210C1058.7,205.8 1044.5,204.2 1032,200C1019.5,195.8 1003.7,190.8 997,185C990.3,179.2 987.8,169.2 992,165Z" fill="#f18d6f"/>
<path d="M1192,260C1194.5,257.5 1204.5,256.7 1212,257.5C1219.5,258.3 1236.2,262.5 1237,265C1237.8,267.5 1223.7,271.2 1217,272.5C1210.3,273.8 1201.2,274.6 1197,272.5C1192.8,270.4 1189.5,262.5 1192,260Z" fill="#f18d6f"/>
<path d="M1007,175C1011.2,171.7 1027,167.9 1037,167.5C1047,167.1 1057.8,167.9 1067,172.5C1076.2,177.1 1087,188.3 1092,195C1097,201.7 1100.3,210.8 1097,212.5C1093.7,214.2 1081.2,207.9 1072,205C1062.8,202.1 1052,197.9 1042,195C1032,192.1 1017.8,190.8 1012,187.5C1006.2,184.2 1002.8,178.3 1007,175Z" fill="#d95847"/>
<path d="M515,232C517,228.2 525,221.5 530,222C535,222.5 544.2,230.7 545,235C545.8,239.3 539.5,246.3 535,248C530.5,249.7 521.3,247.7 518,245C514.7,242.3 513,235.8 515,232Z" fill="#d95847"/>
<path d="M1027,180C1026.2,176.7 1037,172.9 1042,172.5C1047,172.1 1053.2,173.8 1057,177.5C1060.8,181.2 1066.2,192.5 1064.5,195C1062.8,197.5 1053.2,195 1047,192.5C1040.8,190 1027.8,183.3 1027,180Z" fill="#b40426"/>
<path d="M526,233C527.3,230.7 535.3,228.8 538,230C540.7,231.2 543.3,237.7 542,240C540.7,242.3 532.7,245.2 530,244C527.3,242.8 524.7,235.3 526,233Z" fill="#b40426"/>
</g>
<g transform="translate(95,910) scale(0.5)">
<clipPath id="c1"><path d="M79.6,249.8C80,243.6 81.2,241.8 84.4,237.8C87.6,233.8 93.2,229 98.8,225.8C104.4,222.6 110.8,221.2 118,218.6C125.2,216 134,213 142,210C150,207 158,203.3 166,200.5C174,197.7 182,194.6 190,193C198,191.4 206,192.9 214,191C222,189.1 230,184.5 238,181.3C246,178.1 254,174.7 262,171.7C270,168.7 278,166.3 286,163.3C294,160.3 302,156.9 310,153.7C318,150.5 325.9,147.6 334,144C342.1,140.4 350.4,136 358.5,132C366.6,128 375.6,122.4 382.5,120C389.4,117.6 388.8,120.4 400,117.5C411.2,114.6 433.3,106.2 450,102.5C466.7,98.8 485,97.6 500,95C515,92.4 528.3,90 540,87C551.7,84 557.2,83.9 570,77C582.8,70.1 606.6,52.4 617,45.6C627.4,38.8 625.8,37.8 632.5,36C639.2,34.2 649.8,34.7 657.5,34.7C665.2,34.7 673.2,34.5 679,36C684.8,37.5 687.8,42.7 692,44C696.2,45.3 698.3,45.3 704,44C709.7,42.7 719.2,37.5 726,36C732.8,34.5 738.7,34.7 745,34.7C751.3,34.7 756.7,34.2 764,36C771.3,37.8 779.7,43.4 789,45.6C798.3,47.8 809.7,48.9 820,49.4C830.3,49.9 840.6,47.8 851,48.8C861.4,49.7 873.1,52.7 882.5,55C891.9,57.3 899.8,61.2 907.5,62.8C915.2,64.4 922.8,64.7 929,64.4C935.2,64.1 937.2,61 945,61C952.8,61 965.6,62.3 976,64.4C986.4,66.5 997,71.7 1007.5,73.8C1018,75.8 1030.7,76.1 1039,77C1047.3,77.9 1049,78.6 1057.5,79.4C1066,80.2 1081.4,81.3 1090,81.6C1098.6,81.9 1101,78.9 1109,81C1117,83.1 1129.2,89.7 1138,94.4C1146.8,99.1 1154,104.4 1162,109C1170,113.6 1177.2,119.7 1186,122C1194.8,124.3 1207,121 1215,122.8C1223,124.6 1226.8,129 1234,133C1241.2,137 1250,143 1258,147C1266,151 1272,154.3 1282,157C1292,159.7 1308,159.4 1318,163C1328,166.6 1331.9,174 1342,178.6C1352.1,183.2 1368.4,187.4 1378.5,190.6C1388.6,193.8 1394.5,195.4 1402.5,197.8C1410.5,200.2 1418.5,202.8 1426.5,205C1434.5,207.2 1441.7,209.8 1450.5,211C1459.3,212.2 1472.8,210.6 1479.4,212C1486,213.4 1486.2,215.6 1490,219.4C1493.8,223.2 1499.5,227.4 1502,235C1504.5,242.6 1505.3,256.7 1505,265C1504.7,273.3 1504.2,279.2 1500,285C1495.8,290.8 1488.3,296.2 1480,300C1471.7,303.8 1460,305.4 1450,307.5C1440,309.6 1430.8,309.6 1420,312.5C1409.2,315.4 1396.7,317.9 1385,325C1373.3,332.1 1358.3,345 1350,355C1341.7,365 1340,376.7 1335,385C1330,393.3 1325.8,399.2 1320,405C1314.2,410.8 1308.3,416.7 1300,420C1291.7,423.3 1280,423 1270,425C1260,427 1246.7,427.8 1240,432C1233.3,436.2 1235,446.2 1230,450C1225,453.8 1220,454.2 1210,455C1200,455.8 1178.3,453.3 1170,455C1161.7,456.7 1158.3,461.2 1160,465C1161.7,468.8 1175.8,472.2 1180,478C1184.2,483.8 1187.5,493.8 1185,500C1182.5,506.2 1175.8,510 1165,515C1154.2,520 1132.5,524.2 1120,530C1107.5,535.8 1100,542.5 1090,550C1080,557.5 1070,566.7 1060,575C1050,583.3 1040,591.7 1030,600C1020,608.3 1008.3,617.5 1000,625C991.7,632.5 985,637.8 980,645C975,652.2 976.7,663.5 970,668C963.3,672.5 951.7,672.5 940,672C928.3,671.5 913.3,667 900,665C886.7,663 873.3,661.2 860,660C846.7,658.8 835,659.3 820,658C805,656.7 786.7,653.7 770,652C753.3,650.3 735,648.3 720,648C705,647.7 693.3,650 680,650C666.7,650 653.3,650.5 640,648C626.7,645.5 611.7,640.5 600,635C588.3,629.5 580,621.7 570,615C560,608.3 550,602.5 540,595C530,587.5 518.3,578.3 510,570C501.7,561.7 498.3,553.3 490,545C481.7,536.7 471.7,527.5 460,520C448.3,512.5 432.5,506.7 420,500C407.5,493.3 395.3,486.3 385,480C374.7,473.7 363,468.7 358,462C353,455.3 358.8,445 355,440C351.2,435 344.2,436.2 335,432C325.8,427.8 310.8,421.2 300,415C289.2,408.8 278.3,401.7 270,395C261.7,388.3 255.8,382.5 250,375C244.2,367.5 240.8,358.3 235,350C229.2,341.7 220.8,331.3 215,325C209.2,318.7 210.8,315.3 200,312C189.2,308.7 165,306.7 150,305C135,303.3 119.7,304.2 110,302C100.3,299.8 96.7,296.5 92,292C87.3,287.5 84.1,282 82,275C79.9,268 79.2,256 79.6,249.8Z"/></clipPath>
<g clip-path="url(#c1)">
<path d="M-100,-100 2000,-100 2000,2000 -100,2000Z" fill="#d95847"/>
<path d="M60,275C63.7,274.4 76.3,273.2 82,271.4C87.7,269.6 88,267.2 94,264C100,260.8 110,255.2 118,252C126,248.8 134,247.8 142,245C150,242.2 158,237.8 166,235C174,232.2 182,229.9 190,228C198,226.1 206,225.4 214,223.4C222,221.4 230,218.8 238,216C246,213.2 254,210.1 262,206.5C270,202.9 278,198.1 286,194.5C294,190.9 302,189 310,185C318,181 325.9,175.3 334,170.5C342.1,165.7 350.4,160.4 358.5,156C366.6,151.6 374.5,148 382.5,144C390.5,140 398.5,135.6 406.5,132C414.5,128.4 419.9,126.1 430.5,122.4C441.1,118.7 455.1,114.1 470,110C484.9,105.9 503.3,102.7 520,98C536.7,93.3 555,89.2 570,82C585,74.8 598.3,62.3 610,55C621.7,47.7 628.3,42.5 640,38C651.7,33.5 660,30.7 680,28C700,25.3 731.7,22.5 760,22C788.3,21.5 818.3,21.2 850,25C881.7,28.8 925,39.2 950,45C975,50.8 985,54.8 1000,60C1015,65.2 1028.3,71.3 1040,76C1051.7,80.7 1061.7,84.5 1070,88C1078.3,91.5 1082.7,92.1 1090,96.8C1097.3,101.5 1106,111.4 1114,116C1122,120.6 1130,121.7 1138,124.5C1146,127.3 1154,129.6 1162,133C1170,136.4 1178,141 1186,145C1194,149 1202,152.2 1210,157C1218,161.8 1226,170.4 1234,173.8C1242,177.1 1250,176.2 1258,177C1266,177.8 1274,176.3 1282,178.6C1290,180.9 1298,186.2 1306,190.6C1314,195 1322,199.4 1330,205C1338,210.6 1345.9,218.4 1354,224C1362.1,229.6 1370.4,235.8 1378.5,238.6C1386.6,241.4 1394.5,240.2 1402.5,241C1410.5,241.8 1418.5,241.9 1426.5,243.5C1434.5,245.1 1442.5,248.3 1450.5,250.7C1458.5,253.1 1468,256 1474.6,258C1481.2,260 1484.9,261.1 1490,262.7C1495.1,264.3 1493.3,264.6 1505,267.5C1516.7,270.4 1550.8,277.9 1560,280L1560,3000 L60,3000 Z" fill="#f18d6f"/>
<path d="M60,290C64.8,290.1 79.3,293 89,290.7C98.7,288.4 109.2,279.6 118,276C126.8,272.4 134,271.3 142,269C150,266.7 158,264 166,262C174,260 182,259 190,257C198,255 206,252.6 214,249.8C222,247 230,243.2 238,240C246,236.8 254,234.2 262,230.6C270,227 278,222.2 286,218.6C294,215 302,213.4 310,209C318,204.6 325.9,197.7 334,192C342.1,186.3 350.4,180.2 358.5,175C366.6,169.8 374.5,165.8 382.5,161C390.5,156.2 398.5,150.8 406.5,146.4C414.5,142 422.5,138.2 430.5,134.4C438.5,130.6 443,127.7 454.6,123.6C466.2,119.5 485.8,114.3 500,110C514.2,105.7 528.3,102.5 540,98C551.7,93.5 560,88.3 570,83C580,77.7 590,71.5 600,66C610,60.5 620,54 630,50C640,46 648.3,43.7 660,42C671.7,40.3 683.3,40.3 700,40C716.7,39.7 740,38.3 760,40C780,41.7 799.2,46.2 820,50C840.8,53.8 865.8,59.2 885,62.5C904.2,65.8 918.3,67.1 935,70C951.7,72.9 965.8,75.5 985,80C1004.2,84.5 1032.5,91.6 1050,97C1067.5,102.4 1079.3,108.2 1090,112.5C1100.7,116.8 1106,119.2 1114,123C1122,126.8 1130,131.3 1138,135C1146,138.7 1154,141.8 1162,145C1170,148.2 1178,150.9 1186,154.5C1194,158.1 1202,162.1 1210,166.5C1218,170.9 1226,177 1234,181C1242,185 1250,187 1258,190.6C1266,194.2 1274,198.6 1282,202.6C1290,206.6 1298,210.6 1306,214.6C1314,218.6 1322,221.8 1330,226.6C1338,231.4 1345.9,238.3 1354,243.5C1362.1,248.7 1370.4,253.6 1378.5,258C1386.6,262.4 1394.5,266.3 1402.5,270C1410.5,273.7 1416.9,277.5 1426.5,280C1436.1,282.5 1448.6,283 1460,285C1471.4,287 1478.3,288.7 1495,292C1511.7,295.3 1549.2,302.8 1560,305L1560,3000 L60,3000 Z" fill="#f7b89c"/>
<path d="M70,300C76,300.8 96,305.3 106,305C116,304.7 122,300.4 130,298C138,295.6 146,293.1 154,290.7C162,288.3 170,285.5 178,283.5C186,281.5 194,281 202,278.6C210,276.2 218,272.6 226,269C234,265.4 242,261 250,257C258,253 266,249 274,245C282,241 290,237 298,233C306,229 314,225.4 322,221C330,216.6 337.9,211.7 346,206.5C354.1,201.3 362.4,194.5 370.5,189.7C378.6,184.9 386.5,182.1 394.5,177.7C402.5,173.2 410.6,167.8 418.6,163C426.6,158.2 434,154 442.6,148.8C451.2,143.6 457.1,138.1 470,132C482.9,125.9 503.3,119.7 520,112C536.7,104.3 556.7,92.7 570,86C583.3,79.3 588.3,77.2 600,72C611.7,66.8 623.3,59.7 640,55C656.7,50.3 680,45.8 700,44C720,42.2 740,42.7 760,44C780,45.3 803.3,49.3 820,52C836.7,54.7 845,57 860,60C875,63 893.3,65.8 910,70C926.7,74.2 939.2,79.2 960,85C980.8,90.8 1013.3,98.2 1035,105C1056.7,111.8 1076.8,120.7 1090,125.7C1103.2,130.8 1106,131.9 1114,135.3C1122,138.7 1130,142.6 1138,146C1146,149.4 1154,151.9 1162,155.7C1170,159.5 1178,164.8 1186,169C1194,173.2 1202,176.6 1210,181C1218,185.4 1226,191 1234,195.4C1242,199.8 1250,203.6 1258,207.4C1266,211.2 1274,214.4 1282,218C1290,221.6 1298,224.8 1306,229C1314,233.2 1322,238.7 1330,243.5C1338,248.3 1345.9,253.2 1354,258C1362.1,262.8 1371.2,268.3 1378.5,272C1385.8,275.7 1387.5,276 1397.7,280C1408,284 1425.5,291.3 1440,296C1454.5,300.7 1465,303.2 1485,308C1505,312.8 1547.5,322.2 1560,325L1560,3000 L70,3000 Z" fill="#ead4c8"/>
<path d="M120,320C123.7,318.7 134.3,314.1 142,312C149.7,309.9 158,309.5 166,307.5C174,305.5 182,302.4 190,300C198,297.6 206,295.8 214,293C222,290.2 230,287.5 238,283.5C246,279.5 254,273.8 262,269C270,264.2 278,258.6 286,254.6C294,250.6 302,248.6 310,245C318,241.4 325.9,237.8 334,233C342.1,228.2 350.4,221.7 358.5,216C366.6,210.3 374.5,203.8 382.5,199C390.5,194.2 398.5,191.3 406.5,187C414.5,182.7 422.5,178.1 430.5,172.9C438.5,167.7 448,161.2 454.6,156C461.2,150.8 459.1,147.6 470,141.6C480.9,135.6 503.3,128.1 520,120C536.7,111.9 555,100.3 570,93C585,85.7 596.7,81.5 610,76C623.3,70.5 635,64.3 650,60C665,55.7 681.7,52 700,50.3C718.3,48.6 740,49.2 760,50C780,50.8 803.3,51.7 820,55C836.7,58.3 845,65.8 860,70C875,74.2 893.3,75.8 910,80C926.7,84.2 943.3,90 960,95C976.7,100 993.3,105.5 1010,110C1026.7,114.5 1046.7,118 1060,122C1073.3,126 1081,130.2 1090,134C1099,137.8 1106,141.2 1114,145C1122,148.8 1130,153.4 1138,157C1146,160.6 1154,162.5 1162,166.5C1170,170.5 1178,176.6 1186,181C1194,185.4 1202,188.6 1210,193C1218,197.4 1226,203 1234,207.4C1242,211.8 1250,215.4 1258,219.4C1266,223.4 1274,227 1282,231.4C1290,235.8 1298,240.8 1306,246C1314,251.2 1322,257.5 1330,262.7C1338,267.9 1342.3,271.1 1354,277C1365.7,282.9 1386.5,292.7 1400,298C1413.5,303.3 1424.2,307 1435,309C1445.8,311 1444.2,306.5 1465,310C1485.8,313.5 1544.2,326.7 1560,330L1560,3000 L120,3000 Z" fill="#cdd9ec"/>
<path d="M170,325C172.5,323.3 177.7,317.6 185,314.7C192.3,311.8 205.2,309.9 214,307.5C222.8,305.1 230,303.2 238,300C246,296.8 254,292.8 262,288C270,283.2 278,276.2 286,271.4C294,266.6 302,263 310,259.4C318,255.8 325.9,253.8 334,249.8C342.1,245.8 350.4,240.2 358.5,235.4C366.6,230.6 374.5,225.4 382.5,221C390.5,216.6 398.5,213.8 406.5,209C414.5,204.2 422.5,198.4 430.5,192C438.5,185.6 448,177.2 454.6,170.5C461.2,163.8 459.1,159.1 470,152C480.9,144.9 503.3,136.3 520,128C536.7,119.7 553.3,109.7 570,102C586.7,94.3 598.3,89.3 620,82C641.7,74.7 676.7,62.3 700,58C723.3,53.7 740,55.7 760,56C780,56.3 803.3,56.4 820,60C836.7,63.6 845,72.1 860,77.5C875,82.9 893.3,87.5 910,92.5C926.7,97.5 943.3,102.9 960,107.5C976.7,112.1 993.3,115.4 1010,120C1026.7,124.6 1046.7,131.2 1060,135C1073.3,138.8 1081,138.8 1090,142.5C1099,146.2 1108,151.8 1114,157C1120,162.2 1120,169.4 1126,173.8C1132,178.1 1142,179.4 1150,183C1158,186.6 1166,190.9 1174,195.4C1182,199.9 1190,205 1198,209.8C1206,214.6 1214,219.2 1222,224C1230,228.8 1238,233.8 1246,238.6C1254,243.4 1262,248.2 1270,253C1278,257.8 1286,263 1294,267.5C1302,272 1307,274.6 1318,280C1329,285.4 1344.7,294.3 1360,300C1375.3,305.7 1386.7,308.2 1410,314C1433.3,319.8 1485,331.5 1500,335L1500,3000 L170,3000 Z" fill="#aac7fd"/>
<path d="M200,330C202.3,328.3 207.7,322.6 214,320C220.3,317.4 230,317.2 238,314.7C246,312.2 254,309.4 262,305C270,300.6 280,294.8 286,288C292,281.2 292,269.2 298,264C304,258.8 314,260.2 322,257C330,253.8 337.9,248.6 346,245C354.1,241.4 362.4,239.4 370.5,235.4C378.6,231.4 386.5,226.6 394.5,221C402.5,215.4 410.6,207.4 418.6,201.7C426.6,196 434,193.8 442.6,187C451.2,180.2 457.1,169.2 470,161C482.9,152.8 503.3,146.3 520,138C536.7,129.7 553.3,119 570,111C586.7,103 598.3,97.5 620,90C641.7,82.5 676.7,70.5 700,66C723.3,61.5 740,63 760,63C780,63 803.3,62.3 820,66C836.7,69.7 845,78.9 860,85C875,91.1 893.3,97.1 910,102.5C926.7,107.9 943.3,112.1 960,117.5C976.7,122.9 995,130.9 1010,135C1025,139.1 1036.7,139.2 1050,142C1063.3,144.8 1079.3,147.2 1090,152C1100.7,156.8 1106,165.8 1114,171C1122,176.2 1130,178.9 1138,183C1146,187.1 1154,190.9 1162,195.4C1170,199.9 1178,205.2 1186,210C1194,214.8 1202,219.2 1210,224C1218,228.8 1226,233.8 1234,238.6C1242,243.4 1250,247.4 1258,253C1266,258.6 1276,267.5 1282,272C1288,276.5 1285.2,272.8 1294,280C1302.8,287.2 1319.8,307.2 1335,315C1350.2,322.8 1365.8,322 1385,327C1404.2,332 1439.2,342 1450,345L1450,3000 L200,3000 Z" fill="#82a6fb"/>
<path d="M240,335C244.5,332.5 259.3,323.8 267,320C274.7,316.2 278.8,314.9 286,312C293.2,309.1 304.3,306.7 310,302.7C315.7,298.7 317.2,294.4 320,288C322.8,281.6 322.7,269.6 327,264C331.3,258.4 338.8,258.2 346,254.6C353.2,251 362.4,248.2 370.5,242.6C378.6,237 386.5,228.6 394.5,221C402.5,213.4 410.6,203.4 418.6,197C426.6,190.6 434,185.7 442.6,182.5C451.2,179.3 457.1,183.1 470,177.7C482.9,172.3 503.3,159.4 520,150C536.7,140.6 553.3,129.3 570,121C586.7,112.7 598.3,106.5 620,100C641.7,93.5 676.7,86 700,82C723.3,78 740,77 760,76C780,75 803.3,74 820,76C836.7,78 845,82.8 860,88C875,93.2 893.3,100.8 910,107C926.7,113.2 945,120.3 960,125C975,129.7 987.5,129.2 1000,135C1012.5,140.8 1025,155.8 1035,160C1045,164.2 1050.8,158.2 1060,160C1069.2,161.8 1081,166.7 1090,171C1099,175.3 1106,181 1114,185.8C1122,190.6 1130,195.2 1138,200C1146,204.8 1154,209.8 1162,214.6C1170,219.4 1178,223.4 1186,229C1194,234.6 1202,239.5 1210,248C1218,256.5 1225.7,273.8 1234,280C1242.3,286.2 1247.3,279.7 1260,285C1272.7,290.3 1293.3,303.5 1310,312C1326.7,320.5 1348.3,331 1360,336C1371.7,341 1365,336.3 1380,342C1395,347.7 1438.3,365.3 1450,370L1450,3000 L240,3000 Z" fill="#5d7ce6"/>
<path d="M462,380C467,366.7 467,351.7 475,340C483,328.3 498.3,317.8 510,310C521.7,302.2 531.7,298 545,293C558.3,288 574.2,284.7 590,280C605.8,275.3 623.3,269.2 640,265C656.7,260.8 676.7,256.2 690,255C703.3,253.8 709.2,260.8 720,258C730.8,255.2 743.3,243 755,238C766.7,233 777.5,227.7 790,228C802.5,228.3 816.7,236.7 830,240C843.3,243.3 855,245.5 870,248C885,250.5 903.3,251.7 920,255C936.7,258.3 955,263 970,268C985,273 996.7,278.8 1010,285C1023.3,291.2 1038.3,295.8 1050,305C1061.7,314.2 1071.7,327.5 1080,340C1088.3,352.5 1095,370 1100,380C1105,390 1102.5,395 1110,400C1117.5,405 1138.3,403.3 1145,410C1151.7,416.7 1150.8,431.7 1150,440C1149.2,448.3 1146.7,453.3 1140,460C1133.3,466.7 1121.7,471.7 1110,480C1098.3,488.3 1080,497.5 1070,510C1060,522.5 1056.7,543.3 1050,555C1043.3,566.7 1040,574.2 1030,580C1020,585.8 1001.7,587 990,590C978.3,593 971.7,598 960,598C948.3,598 935,594.7 920,590C905,585.3 886.7,574.2 870,570C853.3,565.8 835,565 820,565C805,565 793.3,568.3 780,570C766.7,571.7 753.3,575.8 740,575C726.7,574.2 715,565 700,565C685,565 663.3,570.5 650,575C636.7,579.5 628.3,587.8 620,592C611.7,596.2 608.3,600.3 600,600C591.7,599.7 581.7,595 570,590C558.3,585 541.7,576.7 530,570C518.3,563.3 504.2,561.7 500,550C495.8,538.3 508.3,511.7 505,500C501.7,488.3 489.2,488.3 480,480C470.8,471.7 455.8,460 450,450C444.2,440 443,431.7 445,420C447,408.3 457,393.3 462,380Z" fill="#82a6fb"/>
<path d="M356,461C365.2,456 402.8,450.4 415.5,445C428.2,439.6 426.6,434.1 432,428.7C437.4,423.3 442.7,414.3 448,412.5C453.3,410.7 460.3,413.4 464,418C467.7,422.6 470.8,432.8 470,440C469.2,447.2 457.3,454.3 459,461C460.7,467.7 472.8,474.5 480,480C487.2,485.5 496.5,488.2 502,494C507.5,499.8 511.7,507.8 513,515C514.3,522.2 511.3,532 510,537C508.7,542 511.7,546.2 505,545C498.3,543.8 482.5,535.8 470,530C457.5,524.2 443.3,516.7 430,510C416.7,503.3 401.7,495.8 390,490C378.3,484.2 365.7,479.8 360,475C354.3,470.2 346.8,466 356,461Z" fill="#82a6fb"/>
<path d="M520,545C517.5,531.7 503.3,507.5 505,500C506.7,492.5 521.7,497.5 530,500C538.3,502.5 548.3,518.3 555,515C561.7,511.7 562.5,488.3 570,480C577.5,471.7 590.8,473.3 600,465C609.2,456.7 616.7,435 625,430C633.3,425 643.3,428.3 650,435C656.7,441.7 666.7,455.8 665,470C663.3,484.2 647.5,505 640,520C632.5,535 625,546.7 620,560C615,573.3 620,593.3 610,600C600,606.7 575,603.3 560,600C545,596.7 526.7,589.2 520,580C513.3,570.8 522.5,558.3 520,545Z" fill="#5d7ce6"/>
<path d="M935,450C935.8,444.2 945,448.3 950,455C955,461.7 960,482.5 965,490C970,497.5 978.3,491.7 980,500C981.7,508.3 971.7,528.3 975,540C978.3,551.7 989.2,566.7 1000,570C1010.8,573.3 1028.3,564.2 1040,560C1051.7,555.8 1066.7,540 1070,545C1073.3,550 1071.7,580.8 1060,590C1048.3,599.2 1018.3,598.3 1000,600C981.7,601.7 964.2,600.8 950,600C935.8,599.2 917.5,601.7 915,595C912.5,588.3 928.3,572.5 935,560C941.7,547.5 953.3,531.7 955,520C956.7,508.3 948.3,501.7 945,490C941.7,478.3 934.2,455.8 935,450Z" fill="#5d7ce6"/>
<ellipse cx="755" cy="375" rx="16" ry="20" transform="rotate(0 755 375)" fill="#5d7ce6"/>
<ellipse cx="620" cy="346" rx="10" ry="6" transform="rotate(0 620 346)" fill="#aac7fd"/>
<path d="M200,330C210,325 238.3,330.7 260,330C281.7,329.3 313,324.3 330,326C347,327.7 360.3,333.5 362,340C363.7,346.5 345.3,355.8 340,365C334.7,374.2 329.2,383.8 330,395C330.8,406.2 350,426.2 345,432C340,437.8 315.8,435.3 300,430C284.2,424.7 266.7,411.7 250,400C233.3,388.3 208.3,371.7 200,360C191.7,348.3 190,335 200,330Z" fill="#3b4cc0"/>
<path d="M1215,355C1221.7,345 1245.8,332.8 1260,330C1274.2,327.2 1286.7,338.8 1300,338C1313.3,337.2 1323.3,326.3 1340,325C1356.7,323.7 1396.7,314.2 1400,330C1403.3,345.8 1376.7,403.3 1360,420C1343.3,436.7 1318.3,426.7 1300,430C1281.7,433.3 1260.8,441.7 1250,440C1239.2,438.3 1240,428.3 1235,420C1230,411.7 1223.3,400.8 1220,390C1216.7,379.2 1208.3,365 1215,355Z" fill="#3b4cc0"/>
<path d="M520,595C527,586.3 562.3,580.5 572,588C581.7,595.5 585,631.3 578,640C571,648.7 539.7,647.5 530,640C520.3,632.5 513,603.7 520,595Z" fill="#3b4cc0"/>
<path d="M580,660C583.3,651.3 588.3,649.7 600,648C611.7,646.3 633.3,651.3 650,650C666.7,648.7 681.7,644.2 700,640C718.3,635.8 740,626.7 760,625C780,623.3 801.7,630 820,630C838.3,630 853.3,624.2 870,625C886.7,625.8 906.7,635.8 920,635C933.3,634.2 938.3,623.3 950,620C961.7,616.7 980,611.7 990,615C1000,618.3 1008.3,625.8 1010,640C1011.7,654.2 1071.7,690 1000,700C928.3,710 650,706.7 580,700C510,693.3 576.7,668.7 580,660Z" fill="#3b4cc0"/>
<ellipse cx="730" cy="100" rx="55" ry="12" transform="rotate(-12 730 100)" fill="#3b4cc0"/>
<ellipse cx="388" cy="266" rx="16" ry="5" transform="rotate(-5 388 266)" fill="#3b4cc0"/>
<ellipse cx="1160" cy="254" rx="9" ry="8" transform="rotate(0 1160 254)" fill="#3b4cc0"/>
</g>
</g>
<g transform="translate(95,1277) scale(0.5)">
<clipPath id="c2"><path d="M79.6,249.8C80,243.6 81.2,241.8 84.4,237.8C87.6,233.8 93.2,229 98.8,225.8C104.4,222.6 110.8,221.2 118,218.6C125.2,216 134,213 142,210C150,207 158,203.3 166,200.5C174,197.7 182,194.6 190,193C198,191.4 206,192.9 214,191C222,189.1 230,184.5 238,181.3C246,178.1 254,174.7 262,171.7C270,168.7 278,166.3 286,163.3C294,160.3 302,156.9 310,153.7C318,150.5 325.9,147.6 334,144C342.1,140.4 350.4,136 358.5,132C366.6,128 375.6,122.4 382.5,120C389.4,117.6 388.8,120.4 400,117.5C411.2,114.6 433.3,106.2 450,102.5C466.7,98.8 485,97.6 500,95C515,92.4 528.3,90 540,87C551.7,84 557.2,83.9 570,77C582.8,70.1 606.6,52.4 617,45.6C627.4,38.8 625.8,37.8 632.5,36C639.2,34.2 649.8,34.7 657.5,34.7C665.2,34.7 673.2,34.5 679,36C684.8,37.5 687.8,42.7 692,44C696.2,45.3 698.3,45.3 704,44C709.7,42.7 719.2,37.5 726,36C732.8,34.5 738.7,34.7 745,34.7C751.3,34.7 756.7,34.2 764,36C771.3,37.8 779.7,43.4 789,45.6C798.3,47.8 809.7,48.9 820,49.4C830.3,49.9 840.6,47.8 851,48.8C861.4,49.7 873.1,52.7 882.5,55C891.9,57.3 899.8,61.2 907.5,62.8C915.2,64.4 922.8,64.7 929,64.4C935.2,64.1 937.2,61 945,61C952.8,61 965.6,62.3 976,64.4C986.4,66.5 997,71.7 1007.5,73.8C1018,75.8 1030.7,76.1 1039,77C1047.3,77.9 1049,78.6 1057.5,79.4C1066,80.2 1081.4,81.3 1090,81.6C1098.6,81.9 1101,78.9 1109,81C1117,83.1 1129.2,89.7 1138,94.4C1146.8,99.1 1154,104.4 1162,109C1170,113.6 1177.2,119.7 1186,122C1194.8,124.3 1207,121 1215,122.8C1223,124.6 1226.8,129 1234,133C1241.2,137 1250,143 1258,147C1266,151 1272,154.3 1282,157C1292,159.7 1308,159.4 1318,163C1328,166.6 1331.9,174 1342,178.6C1352.1,183.2 1368.4,187.4 1378.5,190.6C1388.6,193.8 1394.5,195.4 1402.5,197.8C1410.5,200.2 1418.5,202.8 1426.5,205C1434.5,207.2 1441.7,209.8 1450.5,211C1459.3,212.2 1472.8,210.6 1479.4,212C1486,213.4 1486.2,215.6 1490,219.4C1493.8,223.2 1499.5,227.4 1502,235C1504.5,242.6 1505.3,256.7 1505,265C1504.7,273.3 1504.2,279.2 1500,285C1495.8,290.8 1488.3,296.2 1480,300C1471.7,303.8 1460,305.4 1450,307.5C1440,309.6 1430.8,309.6 1420,312.5C1409.2,315.4 1396.7,317.9 1385,325C1373.3,332.1 1358.3,345 1350,355C1341.7,365 1340,376.7 1335,385C1330,393.3 1325.8,399.2 1320,405C1314.2,410.8 1308.3,416.7 1300,420C1291.7,423.3 1280,423 1270,425C1260,427 1246.7,427.8 1240,432C1233.3,436.2 1235,446.2 1230,450C1225,453.8 1220,454.2 1210,455C1200,455.8 1178.3,453.3 1170,455C1161.7,456.7 1158.3,461.2 1160,465C1161.7,468.8 1175.8,472.2 1180,478C1184.2,483.8 1187.5,493.8 1185,500C1182.5,506.2 1175.8,510 1165,515C1154.2,520 1132.5,524.2 1120,530C1107.5,535.8 1100,542.5 1090,550C1080,557.5 1070,566.7 1060,575C1050,583.3 1040,591.7 1030,600C1020,608.3 1008.3,617.5 1000,625C991.7,632.5 985,637.8 980,645C975,652.2 976.7,663.5 970,668C963.3,672.5 951.7,672.5 940,672C928.3,671.5 913.3,667 900,665C886.7,663 873.3,661.2 860,660C846.7,658.8 835,659.3 820,658C805,656.7 786.7,653.7 770,652C753.3,650.3 735,648.3 720,648C705,647.7 693.3,650 680,650C666.7,650 653.3,650.5 640,648C626.7,645.5 611.7,640.5 600,635C588.3,629.5 580,621.7 570,615C560,608.3 550,602.5 540,595C530,587.5 518.3,578.3 510,570C501.7,561.7 498.3,553.3 490,545C481.7,536.7 471.7,527.5 460,520C448.3,512.5 432.5,506.7 420,500C407.5,493.3 395.3,486.3 385,480C374.7,473.7 363,468.7 358,462C353,455.3 358.8,445 355,440C351.2,435 344.2,436.2 335,432C325.8,427.8 310.8,421.2 300,415C289.2,408.8 278.3,401.7 270,395C261.7,388.3 255.8,382.5 250,375C244.2,367.5 240.8,358.3 235,350C229.2,341.7 220.8,331.3 215,325C209.2,318.7 210.8,315.3 200,312C189.2,308.7 165,306.7 150,305C135,303.3 119.7,304.2 110,302C100.3,299.8 96.7,296.5 92,292C87.3,287.5 84.1,282 82,275C79.9,268 79.2,256 79.6,249.8Z"/></clipPath>
<g clip-path="url(#c2)">
<path d="M-100,-100 2000,-100 2000,2000 -100,2000Z" fill="#5d7ce6"/>
<path d="M60,295C65.8,294.1 80,294.2 95,289.5C110,284.8 132.5,274.1 150,267C167.5,259.9 183.3,253.7 200,247C216.7,240.3 233.3,233.7 250,227C266.7,220.3 283.3,214.5 300,207C316.7,199.5 333.3,190.3 350,182C366.7,173.7 383.3,164.5 400,157C416.7,149.5 433.3,143.7 450,137C466.7,130.3 483.3,123.7 500,117C516.7,110.3 533.3,103.7 550,97C566.7,90.3 583.3,83.7 600,77C616.7,70.3 633.3,63.2 650,57C666.7,50.8 683.3,45.3 700,40C716.7,34.7 725,28.3 750,25C775,21.7 818.3,15 850,20C881.7,25 913.3,45.1 940,55C966.7,64.9 990,72.9 1010,79.5C1030,86.1 1043.3,87.8 1060,94.5C1076.7,101.2 1093.3,112 1110,119.5C1126.7,127 1143.3,132.4 1160,139.5C1176.7,146.6 1193.3,154.1 1210,162C1226.7,169.9 1243.3,179.5 1260,187C1276.7,194.5 1293.3,200.3 1310,207C1326.7,213.7 1343.3,219.1 1360,227C1376.7,234.9 1393.3,247 1410,254.5C1426.7,262 1445.8,266.6 1460,272C1474.2,277.4 1478.3,282.3 1495,287C1511.7,291.7 1549.2,297.8 1560,300L1560,3000 L60,3000 Z" fill="#82a6fb"/>
<path d="M110,315 125,309.5 175,297 225,282 275,252 300,227 350,202 400,177 450,157 500,137 550,117 600,92 650,72 700,52 750,40 810,50 860,72 910,82 960,97 1010,107 1060,117 1110,142 1160,167 1210,187 1260,212 1310,237 1360,262 1410,287 1450,307 1520,325 1520,420 1320,407 1310,377 1285,352 1260,327 1235,307 1210,277 1185,242 1160,237 1140,217 1110,202 1085,192 1060,162 1010,147 960,127 910,119.5 860,97 810,92 775,82 730,77 680,87 650,97 620,127 590,137 570,157 540,157 510,167 480,182 465,197 450,212 430,212 410,227 400,242 370,247 360,277 330,327 300,367 270,407 230,420Z" fill="#aac7fd"/>
<path d="M190,314.5C195.8,303.7 231.7,284.1 250,272C268.3,259.9 283.3,252 300,242C316.7,232 333.3,221.2 350,212C366.7,202.8 386.7,192.8 400,187C413.3,181.2 423.3,176.2 430,177C436.7,177.8 440.8,187 440,192C439.2,197 435.8,199.5 425,207C414.2,214.5 386.7,227 375,237C363.3,247 359.2,255.3 355,267C350.8,278.7 355,295.3 350,307C345,318.7 335,325.3 325,337C315,348.7 302.5,368.7 290,377C277.5,385.3 262.5,393.7 250,387C237.5,380.3 225,349.1 215,337C205,324.9 184.2,325.3 190,314.5Z" fill="#cdd9ec"/>
<path d="M1060,137C1063.3,135.3 1077.5,141.2 1090,147C1102.5,152.8 1119.2,165.3 1135,172C1150.8,178.7 1168.3,179.5 1185,187C1201.7,194.5 1218.3,207.8 1235,217C1251.7,226.2 1268.3,232.8 1285,242C1301.7,251.2 1318.3,262 1335,272C1351.7,282 1368.3,294.5 1385,302C1401.7,309.5 1435,312.8 1435,317C1435,321.2 1401.7,321.2 1385,327C1368.3,332.8 1345.8,342 1335,352C1324.2,362 1328.3,387.8 1320,387C1311.7,386.2 1295,359.5 1285,347C1275,334.5 1270,323.7 1260,312C1250,300.3 1235,288.7 1225,277C1215,265.3 1207.5,250.3 1200,242C1192.5,233.7 1188.3,232.8 1180,227C1171.7,221.2 1161.7,213.7 1150,207C1138.3,200.3 1120.8,192 1110,187C1099.2,182 1091.7,182 1085,177C1078.3,172 1074.2,163.7 1070,157C1065.8,150.3 1056.7,138.7 1060,137Z" fill="#cdd9ec"/>
<ellipse cx="1012" cy="121" rx="28" ry="8" transform="rotate(10 1012 121)" fill="#cdd9ec"/>
<ellipse cx="620" cy="104" rx="10" ry="6" transform="rotate(-30 620 104)" fill="#cdd9ec"/>
<ellipse cx="468" cy="170" rx="9" ry="5" transform="rotate(-20 468 170)" fill="#cdd9ec"/>
<path d="M200,327C208.3,320.8 246.2,307.8 260,309.5C273.8,311.2 280,329.1 282.5,337C285,344.9 280.4,349.5 275,357C269.6,364.5 256.7,379.5 250,382C243.3,384.5 241.7,377.8 235,372C228.3,366.2 215.8,354.5 210,347C204.2,339.5 191.7,333.2 200,327Z" fill="#ead4c8"/>
<path d="M1300,297C1305,292.8 1320,316.2 1335,322C1350,327.8 1387.5,327 1390,332C1392.5,337 1360.8,342.8 1350,352C1339.2,361.2 1332.5,387.8 1325,387C1317.5,386.2 1309.2,362 1305,347C1300.8,332 1295,301.2 1300,297Z" fill="#ead4c8"/>
<ellipse cx="1090" cy="157" rx="5" ry="4" transform="rotate(0 1090 157)" fill="#ead4c8"/>
<ellipse cx="1247" cy="254" rx="3" ry="4" transform="rotate(0 1247 254)" fill="#ead4c8"/>
<ellipse cx="765" cy="322" rx="35" ry="11" transform="rotate(-5 765 322)" fill="#aac7fd"/>
<ellipse cx="900" cy="349" rx="11" ry="10" transform="rotate(0 900 349)" fill="#aac7fd"/>
<ellipse cx="1025" cy="224" rx="8" ry="4" transform="rotate(20 1025 224)" fill="#aac7fd"/>
<ellipse cx="563" cy="518" rx="17" ry="21" transform="rotate(10 563 518)" fill="#aac7fd"/>
<path d="M450,512C449.2,500.3 468.3,502.8 475,507C481.7,511.2 485,529.5 490,537C495,544.5 505,547 505,552C505,557 487.5,565.3 490,567C492.5,568.7 508.3,561.2 520,562C531.7,562.8 549.2,566.2 560,572C570.8,577.8 580.8,588.7 585,597C589.2,605.3 587.5,615.3 585,622C582.5,628.7 577.5,636.2 570,637C562.5,637.8 550.8,632 540,627C529.2,622 515,615.3 505,607C495,598.7 489.2,592.8 480,577C470.8,561.2 450.8,523.7 450,512Z" fill="#aac7fd"/>
<path d="M955,612C959.2,604.5 975.8,601.2 990,597C1004.2,592.8 1025.8,591.2 1040,587C1054.2,582.8 1070.8,570.3 1075,572C1079.2,573.7 1072.5,589.5 1065,597C1057.5,604.5 1042.5,611.2 1030,617C1017.5,622.8 1000.8,627.8 990,632C979.2,636.2 970.8,645.3 965,642C959.2,638.7 950.8,619.5 955,612Z" fill="#aac7fd"/>
<path d="M640,660C650,651.7 683.3,644.7 700,640C716.7,635.3 726.7,631.2 740,632C753.3,632.8 766.7,644.2 780,645C793.3,645.8 808.3,637.5 820,637C831.7,636.5 840,638.7 850,642C860,645.3 870.8,650.7 880,657C889.2,663.3 945,674.5 905,680C865,685.5 684.2,693.3 640,690C595.8,686.7 630,668.3 640,660Z" fill="#5d7ce6"/>
<path d="M750,660C756.7,655.3 778.3,651.7 790,652C801.7,652.3 811.7,661.5 820,662C828.3,662.5 832.5,653.3 840,655C847.5,656.7 880,667.8 865,672C850,676.2 769.2,682 750,680C730.8,678 743.3,664.7 750,660Z" fill="#3b4cc0"/>
<ellipse cx="1297" cy="420" rx="12" ry="8" transform="rotate(-20 1297 420)" fill="#5d7ce6"/>
<ellipse cx="945" cy="144" rx="5" ry="3" transform="rotate(0 945 144)" fill="#3b4cc0"/>
</g>
</g>
<g transform="translate(95,1644) scale(0.5)">
<clipPath id="c3"><path d="M79.6,249.8C80,243.6 81.2,241.8 84.4,237.8C87.6,233.8 93.2,229 98.8,225.8C104.4,222.6 110.8,221.2 118,218.6C125.2,216 134,213 142,210C150,207 158,203.3 166,200.5C174,197.7 182,194.6 190,193C198,191.4 206,192.9 214,191C222,189.1 230,184.5 238,181.3C246,178.1 254,174.7 262,171.7C270,168.7 278,166.3 286,163.3C294,160.3 302,156.9 310,153.7C318,150.5 325.9,147.6 334,144C342.1,140.4 350.4,136 358.5,132C366.6,128 375.6,122.4 382.5,120C389.4,117.6 388.8,120.4 400,117.5C411.2,114.6 433.3,106.2 450,102.5C466.7,98.8 485,97.6 500,95C515,92.4 528.3,90 540,87C551.7,84 557.2,83.9 570,77C582.8,70.1 606.6,52.4 617,45.6C627.4,38.8 625.8,37.8 632.5,36C639.2,34.2 649.8,34.7 657.5,34.7C665.2,34.7 673.2,34.5 679,36C684.8,37.5 687.8,42.7 692,44C696.2,45.3 698.3,45.3 704,44C709.7,42.7 719.2,37.5 726,36C732.8,34.5 738.7,34.7 745,34.7C751.3,34.7 756.7,34.2 764,36C771.3,37.8 779.7,43.4 789,45.6C798.3,47.8 809.7,48.9 820,49.4C830.3,49.9 840.6,47.8 851,48.8C861.4,49.7 873.1,52.7 882.5,55C891.9,57.3 899.8,61.2 907.5,62.8C915.2,64.4 922.8,64.7 929,64.4C935.2,64.1 937.2,61 945,61C952.8,61 965.6,62.3 976,64.4C986.4,66.5 997,71.7 1007.5,73.8C1018,75.8 1030.7,76.1 1039,77C1047.3,77.9 1049,78.6 1057.5,79.4C1066,80.2 1081.4,81.3 1090,81.6C1098.6,81.9 1101,78.9 1109,81C1117,83.1 1129.2,89.7 1138,94.4C1146.8,99.1 1154,104.4 1162,109C1170,113.6 1177.2,119.7 1186,122C1194.8,124.3 1207,121 1215,122.8C1223,124.6 1226.8,129 1234,133C1241.2,137 1250,143 1258,147C1266,151 1272,154.3 1282,157C1292,159.7 1308,159.4 1318,163C1328,166.6 1331.9,174 1342,178.6C1352.1,183.2 1368.4,187.4 1378.5,190.6C1388.6,193.8 1394.5,195.4 1402.5,197.8C1410.5,200.2 1418.5,202.8 1426.5,205C1434.5,207.2 1441.7,209.8 1450.5,211C1459.3,212.2 1472.8,210.6 1479.4,212C1486,213.4 1486.2,215.6 1490,219.4C1493.8,223.2 1499.5,227.4 1502,235C1504.5,242.6 1505.3,256.7 1505,265C1504.7,273.3 1504.2,279.2 1500,285C1495.8,290.8 1488.3,296.2 1480,300C1471.7,303.8 1460,305.4 1450,307.5C1440,309.6 1430.8,309.6 1420,312.5C1409.2,315.4 1396.7,317.9 1385,325C1373.3,332.1 1358.3,345 1350,355C1341.7,365 1340,376.7 1335,385C1330,393.3 1325.8,399.2 1320,405C1314.2,410.8 1308.3,416.7 1300,420C1291.7,423.3 1280,423 1270,425C1260,427 1246.7,427.8 1240,432C1233.3,436.2 1235,446.2 1230,450C1225,453.8 1220,454.2 1210,455C1200,455.8 1178.3,453.3 1170,455C1161.7,456.7 1158.3,461.2 1160,465C1161.7,468.8 1175.8,472.2 1180,478C1184.2,483.8 1187.5,493.8 1185,500C1182.5,506.2 1175.8,510 1165,515C1154.2,520 1132.5,524.2 1120,530C1107.5,535.8 1100,542.5 1090,550C1080,557.5 1070,566.7 1060,575C1050,583.3 1040,591.7 1030,600C1020,608.3 1008.3,617.5 1000,625C991.7,632.5 985,639.2 980,645C975,650.8 974,655.2 970,660C966,664.8 965.5,671.2 956,674C946.5,676.8 929.2,677.3 913,677C896.8,676.7 878.8,673.3 859,672C839.2,670.7 812,670.8 794,669C776,667.2 767.2,663.7 751,661C734.8,658.3 715,654.3 697,653C679,651.7 657.5,652.5 643,653C628.5,653.5 624.5,660 610,656C595.5,652 572.2,639.8 556,629C539.8,618.2 524.7,602.8 513,591C501.3,579.2 496,569.8 486,558C476,546.2 465.7,530.8 453,520C440.3,509.2 425.8,502.7 410,493C394.2,483.3 367.2,470.8 358,462C348.8,453.2 358.8,445 355,440C351.2,435 344.2,436.2 335,432C325.8,427.8 310.8,421.2 300,415C289.2,408.8 278.3,401.7 270,395C261.7,388.3 255.8,382.5 250,375C244.2,367.5 240.8,358.3 235,350C229.2,341.7 220.8,331.3 215,325C209.2,318.7 210.8,315.3 200,312C189.2,308.7 165,306.7 150,305C135,303.3 119.7,304.2 110,302C100.3,299.8 96.7,296.5 92,292C87.3,287.5 84.1,282 82,275C79.9,268 79.2,256 79.6,249.8Z"/></clipPath>
<g clip-path="url(#c3)">
<path d="M-100,-100 2000,-100 2000,2000 -100,2000Z" fill="#3b4cc0"/>
<path d="M60,300C66.7,301.7 90.8,308.8 100,310C109.2,311.2 102.5,310 115,307C127.5,304 156.7,297 175,292C193.3,287 208.3,283.7 225,277C241.7,270.3 258.3,261.2 275,252C291.7,242.8 308.3,232 325,222C341.7,212 358.3,202 375,192C391.7,182 408.3,171.2 425,162C441.7,152.8 458.3,144.5 475,137C491.7,129.5 508.3,123.7 525,117C541.7,110.3 558.3,103.7 575,97C591.7,90.3 608.3,83.7 625,77C641.7,70.3 662.5,62 675,57C687.5,52 690.8,52.3 700,47C709.2,41.7 715,28.7 730,25C745,21.3 773.3,22.5 790,25C806.7,27.5 820,35.5 830,40C840,44.5 836.7,46.7 850,52C863.3,57.3 891.7,67 910,72C928.3,77 943.3,77 960,82C976.7,87 993.3,97.4 1010,102C1026.7,106.6 1043.3,104.5 1060,109.5C1076.7,114.5 1093.3,123.2 1110,132C1126.7,140.8 1143.3,152.8 1160,162C1176.7,171.2 1193.3,178.7 1210,187C1226.7,195.3 1243.3,203.7 1260,212C1276.7,220.3 1293.3,227.8 1310,237C1326.7,246.2 1343.3,257.8 1360,267C1376.7,276.2 1394.2,284.9 1410,292C1425.8,299.1 1436.7,303.2 1455,309.5C1473.3,315.8 1509.2,326.6 1520,330L1520,3000 L60,3000 Z" fill="#5d7ce6"/>
<path d="M200,340C202.5,338.7 205,336.7 215,332C225,327.3 245.8,319.5 260,312C274.2,304.5 285,297 300,287C315,277 333.3,264.5 350,252C366.7,239.5 383.3,222.8 400,212C416.7,201.2 433.3,195.3 450,187C466.7,178.7 483.3,170.3 500,162C516.7,153.7 533.3,144.5 550,137C566.7,129.5 583.3,123.7 600,117C616.7,110.3 633.3,103.7 650,97C666.7,90.3 683.3,82.8 700,77C716.7,71.2 731.7,65.3 750,62C768.3,58.7 791.7,55.3 810,57C828.3,58.7 843.3,67 860,72C876.7,77 893.3,82.4 910,87C926.7,91.6 943.3,94.5 960,99.5C976.7,104.5 993.3,111.6 1010,117C1026.7,122.4 1043.3,125.3 1060,132C1076.7,138.7 1093.3,147.8 1110,157C1126.7,166.2 1143.3,177 1160,187C1176.7,197 1193.3,207 1210,217C1226.7,227 1243.3,236.2 1260,247C1276.7,257.8 1297.5,271.2 1310,282C1322.5,292.8 1326.7,303.7 1335,312C1343.3,320.3 1351.7,327.8 1360,332C1368.3,336.2 1370,334 1385,337C1400,340 1439.2,347.8 1450,350L1450,3000 L200,3000 Z" fill="#82a6fb"/>
<path d="M220,370C222.5,368.7 225.8,367.5 235,362C244.2,356.5 260,347.8 275,337C290,326.2 308.3,311.2 325,297C341.7,282.8 358.3,266.2 375,252C391.7,237.8 408.3,223.7 425,212C441.7,200.3 458.3,191.2 475,182C491.7,172.8 508.3,165.3 525,157C541.7,148.7 558.3,139.5 575,132C591.7,124.5 608.3,118.7 625,112C641.7,105.3 658.3,97.8 675,92C691.7,86.2 708.3,81.2 725,77C741.7,72.8 760.8,69.1 775,67C789.2,64.9 795.8,62.4 810,64.5C824.2,66.6 843.3,74.5 860,79.5C876.7,84.5 893.3,89.5 910,94.5C926.7,99.5 943.3,104.1 960,109.5C976.7,114.9 993.3,121.2 1010,127C1026.7,132.8 1043.3,137 1060,144.5C1076.7,152 1093.3,162.4 1110,172C1126.7,181.6 1143.3,192 1160,202C1176.7,212 1193.3,222 1210,232C1226.7,242 1247.5,252 1260,262C1272.5,272 1276.7,282 1285,292C1293.3,302 1301.7,311.2 1310,322C1318.3,332.8 1329.2,348.7 1335,357C1340.8,365.3 1334.2,368.2 1345,372C1355.8,375.8 1390.8,378.7 1400,380L1400,3000 L220,3000 Z" fill="#aac7fd"/>
<path d="M240,390C241.7,388.7 241.7,387.5 250,382C258.3,376.5 275,368.7 290,357C305,345.3 323.3,327.8 340,312C356.7,296.2 373.3,277 390,262C406.7,247 423.3,233.7 440,222C456.7,210.3 473.3,202 490,192C506.7,182 523.3,171.2 540,162C556.7,152.8 573.3,144.5 590,137C606.7,129.5 623.3,123.7 640,117C656.7,110.3 673.3,102.8 690,97C706.7,91.2 723.3,85.8 740,82C756.7,78.2 778.3,75.5 790,74C801.7,72.5 798.3,70.8 810,73C821.7,75.2 843.3,82.2 860,87C876.7,91.8 893.3,97 910,102C926.7,107 943.3,111.6 960,117C976.7,122.4 993.3,127.8 1010,134.5C1026.7,141.2 1043.3,149.1 1060,157C1076.7,164.9 1093.3,172.8 1110,182C1126.7,191.2 1143.3,202 1160,212C1176.7,222 1195.8,230.3 1210,242C1224.2,253.7 1232.5,270.3 1245,282C1257.5,293.7 1274.2,302 1285,312C1295.8,322 1302.5,330.3 1310,342C1317.5,353.7 1318.3,372.3 1330,382C1341.7,391.7 1371.7,397 1380,400L1380,3000 L240,3000 Z" fill="#cdd9ec"/>
<path d="M235,420C238.3,416.7 250,404.7 255,400C260,395.3 255.8,398.3 265,392C274.2,385.7 294.2,375.3 310,362C325.8,348.7 343.3,328.7 360,312C376.7,295.3 393.3,277 410,262C426.7,247 443.3,235.3 460,222C476.7,208.7 495,192.8 510,182C525,171.2 535,166.2 550,157C565,147.8 586.7,132.8 600,127C613.3,121.2 617.5,125.3 630,122C642.5,118.7 659.2,112 675,107C690.8,102 708.3,95.3 725,92C741.7,88.7 760.8,88.3 775,87C789.2,85.7 795.8,82.3 810,84C824.2,85.7 843.3,92.3 860,97C876.7,101.7 893.3,106.2 910,112C926.7,117.8 943.3,125.8 960,132C976.7,138.2 993.3,142.8 1010,149.5C1026.7,156.2 1045.8,163.2 1060,172C1074.2,180.8 1082.5,194.5 1095,202C1107.5,209.5 1120,211.2 1135,217C1150,222.8 1172.5,229.5 1185,237C1197.5,244.5 1203.3,251.2 1210,262C1216.7,272.8 1216.7,292 1225,302C1233.3,312 1249.2,313.7 1260,322C1270.8,330.3 1280,340.3 1290,352C1300,363.7 1308.3,380.7 1320,392C1331.7,403.3 1353.3,415.3 1360,420L1360,3000 L235,3000 Z" fill="#ead4c8"/>
<path d="M405,495C409.4,458.2 420.9,481.2 431.7,479C442.5,476.8 457.9,485 469.6,481.8C481.3,478.6 494.3,470 502,460C509.7,450 512.4,434.6 515.6,422C518.8,409.4 518.6,398.2 521,384.5C523.4,370.8 528.5,350.4 530,340C531.5,329.6 521.7,328.3 530,322C538.3,315.7 561.7,307 580,302C598.3,297 620,293.7 640,292C660,290.3 681.7,293.7 700,292C718.3,290.3 733.3,287 750,282C766.7,277 783.3,263.7 800,262C816.7,260.3 833.3,268.7 850,272C866.7,275.3 883.3,277.8 900,282C916.7,286.2 933.3,292 950,297C966.7,302 985,304.5 1000,312C1015,319.5 1032.5,332 1040,342C1047.5,352 1046.7,360.7 1045,372C1043.3,383.3 1029.2,396.2 1030,410C1030.8,423.8 1038.3,445 1050,455C1061.7,465 1083.3,465.5 1100,470C1116.7,474.5 1136.7,477 1150,482C1163.3,487 1175.8,492.8 1180,500C1184.2,507.2 1183.3,519.2 1175,525C1166.7,530.8 1145,531.7 1130,535C1115,538.3 1094.2,540.3 1085,545C1075.8,549.7 1075.8,537.2 1075,563C1074.2,588.8 1191.7,677.2 1080,700C968.3,722.8 517.5,734.2 405,700C292.5,665.8 400.6,531.8 405,495Z" fill="#cdd9ec"/>
<path d="M491,557.5C494.7,549.5 508,556.5 513,552C518,547.5 521.9,539.5 521,530.5C520.1,521.5 508,506.1 507.5,498C507,489.9 512.6,482.9 518,482C523.4,481.1 534.5,485.4 540,492.6C545.5,499.8 544.4,520.5 550.7,525C557,529.5 574.2,527.7 577.8,519.6C581.4,511.5 565.2,486.3 572.4,476.4C579.6,466.5 612.5,472.2 621,460C629.5,447.8 615.6,408.8 623.7,403C631.8,397.2 661.2,428.1 669.7,425C678.2,421.9 666,394 675,384.5C684,375 711.3,373.4 724,368C736.7,362.6 738.3,356.3 751,352C763.7,347.7 783.5,342.3 800,342C816.5,341.7 837.5,347.7 850,350C862.5,352.3 864.5,350.2 875,356C885.5,361.8 902.2,373.5 913,384.5C923.8,395.5 929.2,413 940,422C950.8,431 964.5,432.2 978,438.5C991.5,444.8 1010.2,451.9 1021,460C1031.8,468.1 1041.2,475.2 1043,487C1044.8,498.8 1028.4,517.8 1032,530.5C1035.6,543.2 1056.5,551.4 1064.5,563C1072.5,574.6 1090.8,577.2 1080,600C1069.2,622.8 1080,683.3 1000,700C920,716.7 684.8,716.7 600,700C515.2,683.3 509.2,623.8 491,600C472.8,576.2 487.3,565.5 491,557.5Z" fill="#ead4c8"/>
<ellipse cx="832" cy="426.6" rx="34" ry="14" transform="rotate(20 832 426.6)" fill="#cdd9ec"/>
<path d="M818,476C823.8,476 830.5,481 835,490C839.5,499 844.5,516.7 845,530C845.5,543.3 842.5,560.8 838,570C833.5,579.2 824.3,586.7 818,585C811.7,583.3 804.3,570.8 800,560C795.7,549.2 792,531.7 792,520C792,508.3 795.7,497.3 800,490C804.3,482.7 812.2,476 818,476Z" fill="#cdd9ec"/>
<path d="M905,512C911.2,510.3 929.2,513.7 935,520C940.8,526.3 940.8,538.3 940,550C939.2,561.7 933.7,583 930,590C926.3,597 922.2,597 918,592C913.8,587 908.3,570.3 905,560C901.7,549.7 898,538 898,530C898,522 898.8,513.7 905,512Z" fill="#cdd9ec"/>
<ellipse cx="734.6" cy="454.8" rx="5" ry="6" transform="rotate(0 734.6 454.8)" fill="#cdd9ec"/>
<ellipse cx="688.6" cy="500.7" rx="5" ry="6" transform="rotate(0 688.6 500.7)" fill="#cdd9ec"/>
<ellipse cx="1037.5" cy="584.6" rx="6" ry="9" transform="rotate(20 1037.5 584.6)" fill="#cdd9ec"/>
<ellipse cx="560" cy="620" rx="16" ry="13" transform="rotate(0 560 620)" fill="#f7b89c"/>
<path d="M635,157C630.8,151.2 639.2,135.3 650,127C660.8,118.7 678.3,112 700,107C721.7,102 761.7,95.8 780,97C798.3,98.2 798.3,112 810,114.5C821.7,117 838,111.6 850,112C862,112.4 876.7,112 882,117C887.3,122 890.7,138.2 882,142C873.3,145.8 847.8,142.4 830,139.5C812.2,136.6 792.5,124.5 775,124.5C757.5,124.5 741.7,133.2 725,139.5C708.3,145.8 690,159.1 675,162C660,164.9 639.2,162.8 635,157Z" fill="#f7b89c"/>
<path d="M810,117C815,112 829.2,111.6 840,112C850.8,112.4 866.2,114.9 875,119.5C883.8,124.1 895,135.3 892.5,139.5C890,143.7 873.8,144.1 860,144.5C846.2,144.9 818.3,146.6 810,142C801.7,137.4 805,122 810,117Z" fill="#f7b89c"/>
<path d="M915,144.5C918.3,141.6 929.2,137 940,137C950.8,137 968.3,139.5 980,144.5C991.7,149.5 995.8,159.9 1010,167C1024.2,174.1 1063.3,182 1065,187C1066.7,192 1030.8,195.8 1020,197C1009.2,198.2 1005.8,199.5 1000,194.5C994.2,189.5 993.3,172.4 985,167C976.7,161.6 960.8,164.1 950,162C939.2,159.9 925.8,157.4 920,154.5C914.2,151.6 911.7,147.4 915,144.5Z" fill="#f7b89c"/>
<path d="M1097.5,227C1099.2,222.8 1109.6,221.2 1115,222C1120.4,222.8 1125.8,227 1130,232C1134.2,237 1133.3,247.8 1140,252C1146.7,256.2 1162.5,253.7 1170,257C1177.5,260.3 1183.3,267.4 1185,272C1186.7,276.6 1185,283.7 1180,284.5C1175,285.3 1163.3,280.8 1155,277C1146.7,273.2 1138.3,267 1130,262C1121.7,257 1110.4,252.8 1105,247C1099.6,241.2 1095.8,231.2 1097.5,227Z" fill="#f7b89c"/>
<path d="M1130,257C1130,253.5 1151.7,254.3 1160,256C1168.3,257.7 1176.3,262.7 1180,267C1183.7,271.3 1185.3,280.3 1182,282C1178.7,283.7 1168.7,281.2 1160,277C1151.3,272.8 1130,260.5 1130,257Z" fill="#f18d6f"/>
<ellipse cx="500" cy="202" rx="20" ry="16" transform="rotate(0 500 202)" fill="#f7b89c"/>
<ellipse cx="500" cy="202" rx="8" ry="6" transform="rotate(0 500 202)" fill="#f18d6f"/>
<path d="M375,282C371.7,278.7 390.8,275.3 400,267C409.2,258.7 421.7,237 430,232C438.3,227 445,230.3 450,237C455,243.7 465,263.7 460,272C455,280.3 434.2,285.3 420,287C405.8,288.7 378.3,285.3 375,282Z" fill="#f7b89c"/>
<path d="M385,282C388.3,278.7 410.8,271.2 420,267C429.2,262.8 435,257.8 440,257C445,256.2 448.3,258.7 450,262C451.7,265.3 458.3,272.8 450,277C441.7,281.2 410.8,286.2 400,287C389.2,287.8 381.7,285.3 385,282Z" fill="#f18d6f"/>
<path d="M320,377C317.5,369.5 325,345.3 335,337C345,328.7 365.8,326.2 380,327C394.2,327.8 418.3,336.2 420,342C421.7,347.8 401.7,355.3 390,362C378.3,368.7 361.7,379.5 350,382C338.3,384.5 322.5,384.5 320,377Z" fill="#f7b89c"/>
<path d="M325,372C325,365.8 331.7,346.3 340,340C348.3,333.7 363.3,333.2 375,334C386.7,334.8 410,339.8 410,344.5C410,349.2 386.7,356.6 375,362C363.3,367.4 348.3,375.3 340,377C331.7,378.7 325,378.2 325,372Z" fill="#f18d6f"/>
<path d="M260,412C263.3,406.2 295.8,396.2 310,392C324.2,387.8 333.3,385.3 345,387C356.7,388.7 371.7,396.2 380,402C388.3,407.8 396.7,415.3 395,422C393.3,428.7 377.5,437.8 370,442C362.5,446.2 358.3,448.7 350,447C341.7,445.3 330,435.3 320,432C310,428.7 300,430.3 290,427C280,423.7 256.7,417.8 260,412Z" fill="#f7b89c"/>
<path d="M275,410C276.7,405 296.7,398.8 305,400C313.3,401.2 322.5,411.7 325,417C327.5,422.3 325,429.8 320,432C315,434.2 302.5,433.7 295,430C287.5,426.3 273.3,415 275,410Z" fill="#f18d6f"/>
<path d="M290,414C291.7,411 304.7,408.3 310,410C315.3,411.7 323.7,421 322,424C320.3,427 305.3,429.7 300,428C294.7,426.3 288.3,417 290,414Z" fill="#d95847"/>
<path d="M1185,362C1186.7,355.3 1207.5,342 1220,342C1232.5,342 1246.7,355.3 1260,362C1273.3,368.7 1290,373.7 1300,382C1310,390.3 1321.7,402.8 1320,412C1318.3,421.2 1300,431.2 1290,437C1280,442.8 1270,444.5 1260,447C1250,449.5 1242.5,452 1230,452C1217.5,452 1190,452 1185,447C1180,442 1192.5,429.5 1200,422C1207.5,414.5 1228.3,408.7 1230,402C1231.7,395.3 1217.5,388.7 1210,382C1202.5,375.3 1183.3,368.7 1185,362Z" fill="#f7b89c"/>
<path d="M1195,364C1195.8,357.3 1212.5,347.8 1225,350C1237.5,352.2 1257.5,369.2 1270,377C1282.5,384.8 1299.2,390.3 1300,397C1300.8,403.7 1284.2,413.7 1275,417C1265.8,420.3 1254.2,421.5 1245,417C1235.8,412.5 1228.3,398.8 1220,390C1211.7,381.2 1194.2,370.7 1195,364Z" fill="#f18d6f"/>
<path d="M1265,402C1270,395.8 1285.8,388.3 1295,390C1304.2,391.7 1320.8,404.7 1320,412C1319.2,419.3 1299.2,431.5 1290,434C1280.8,436.5 1269.2,432.3 1265,427C1260.8,421.7 1260,408.2 1265,402Z" fill="#d95847"/>
<path d="M555,617C556.7,613.7 566.2,611.5 570,614C573.8,616.5 579.7,628.7 578,632C576.3,635.3 563.8,636.5 560,634C556.2,631.5 553.3,620.3 555,617Z" fill="#f7b89c"/>
<path d="M600,656C611.7,645.8 649.3,645.5 670,639C690.7,632.5 710.5,619.8 724,617C737.5,614.2 737.5,620 751,622C764.5,624 787,627.2 805,629C823,630.8 841,630 859,633C877,636 895,643.8 913,647C931,650.2 954.2,643.2 967,652C979.8,660.8 1051.2,692 990,700C928.8,708 665,707.3 600,700C535,692.7 588.3,666.2 600,656Z" fill="#f7b89c"/>
<path d="M637,656C647.5,645 685.5,639.2 700,634C714.5,628.8 715.5,625.6 724,625C732.5,624.4 733,628.7 751,630.5C769,632.3 805,632.4 832,636C859,639.6 891.3,648.4 913,652C934.7,655.6 949.2,649.6 962,657.6C974.8,665.6 1044.2,692.9 990,700C935.8,707.1 695.8,707.3 637,700C578.2,692.7 626.5,667 637,656Z" fill="#f18d6f"/>
<path d="M653,659C663.8,647.8 701.7,636.4 718,633C734.3,629.6 732,636.8 751,638.6C770,640.4 805,640.8 832,644C859,647.2 892.3,654.4 913,657.6C933.7,660.8 943.2,655.9 956,663C968.8,670.1 1040.5,693.8 990,700C939.5,706.2 709.2,706.8 653,700C596.8,693.2 642.2,670.2 653,659Z" fill="#d95847"/>
<path d="M697,648C706,643.2 735.7,645 751,647C766.3,649 781.8,655.2 789,660C796.2,664.8 809.3,673.3 794,676C778.7,678.7 713.2,680.7 697,676C680.8,671.3 688,652.8 697,648Z" fill="#b40426"/>
<path d="M821,656C827.3,652 848.2,654.3 859,656C869.8,657.7 880.8,662 886,666C891.2,670 900.8,677.7 890,680C879.2,682.3 832.5,684 821,680C809.5,676 814.7,660 821,656Z" fill="#b40426"/>
</g>
</g>
<g transform="translate(941,890) scale(0.5)">
<clipPath id="c4"><path d="M90.5,300C91.3,288.3 97.6,280 108,270C118.4,260 137.2,250.4 153,240C168.8,229.6 188,210.8 203,207.5C218,204.2 230.5,220.4 243,220C255.5,219.6 265.5,213.8 278,205C290.5,196.2 308,175 318,167.5C328,160 323,161.7 338,160C353,158.3 392.2,163.3 408,157.5C423.8,151.7 421.3,132.1 433,125C444.7,117.9 465.5,122.1 478,115C490.5,107.9 499.7,87.5 508,82.5C516.3,77.5 516.3,82.5 528,85C539.7,87.5 565.5,95.8 578,97.5C590.5,99.2 594.7,98.8 603,95C611.3,91.2 615.5,84.2 628,75C640.5,65.8 663,45.8 678,40C693,34.2 705.5,38.8 718,40C730.5,41.2 741.3,48.3 753,47.5C764.7,46.7 777.2,36.7 788,35C798.8,33.3 803.8,33.3 818,37.5C832.2,41.7 855.5,58.3 873,60C890.5,61.7 912.2,49.2 923,47.5C933.8,45.8 927.2,45.4 938,50C948.8,54.6 971.3,71.2 988,75C1004.7,78.8 1018,70.8 1038,72.5C1058,74.2 1088.8,78.3 1108,85C1127.2,91.7 1131.3,107.5 1153,112.5C1174.7,117.5 1220.5,107.9 1238,115C1255.5,122.1 1240.5,148.3 1258,155C1275.5,161.7 1326.3,149.6 1343,155C1359.7,160.4 1348.8,185 1358,187.5C1367.2,190 1383,170.4 1398,170C1413,169.6 1429.7,176.7 1448,185C1466.3,193.3 1485.5,212.5 1508,220C1530.5,227.5 1568,225 1583,230C1598,235 1594.7,241.7 1598,250C1601.3,258.3 1604.7,269.2 1603,280C1601.3,290.8 1597.2,307.5 1588,315C1578.8,322.5 1556.3,320 1548,325C1539.7,330 1539.7,336.7 1538,345C1536.3,353.3 1542.2,369.2 1538,375C1533.8,380.8 1528,380.8 1513,380C1498,379.2 1466.3,370.8 1448,370C1429.7,369.2 1412.2,371.2 1403,375C1393.8,378.8 1392.7,385 1393,392.5C1393.3,400 1402.2,410.4 1405,420C1407.8,429.6 1414.2,442.5 1410,450C1405.8,457.5 1390,461.7 1380,465C1370,468.3 1360,465.8 1350,470C1340,474.2 1331.7,485.8 1320,490C1308.3,494.2 1293.3,493.3 1280,495C1266.7,496.7 1250.8,498.3 1240,500C1229.2,501.7 1217.5,498.3 1215,505C1212.5,511.7 1225.8,530 1225,540C1224.2,550 1220.8,556.7 1210,565C1199.2,573.3 1171.7,579.2 1160,590C1148.3,600.8 1150,620 1140,630C1130,640 1113.3,642.5 1100,650C1086.7,657.5 1076.7,668.3 1060,675C1043.3,681.7 1016.7,685 1000,690C983.3,695 971.7,705 960,705C948.3,705 940,693.3 930,690C920,686.7 908.3,684.2 900,685C891.7,685.8 890,694.2 880,695C870,695.8 853.3,691.7 840,690C826.7,688.3 810,683.3 800,685C790,686.7 785,695.5 780,700C775,704.5 776.7,711.2 770,712C763.3,712.8 751.7,707 740,705C728.3,703 714.2,702.2 700,700C685.8,697.8 666.7,697.8 655,692C643.3,686.2 640.8,672.8 630,665C619.2,657.2 598.3,654.2 590,645C581.7,635.8 590,616.7 580,610C570,603.3 540,610 530,605C520,600 520.8,589.2 520,580C519.2,570.8 533.3,560 525,550C516.7,540 484.2,521.7 470,520C455.8,518.3 450,538.3 440,540C430,541.7 415.8,535 410,530C404.2,525 403.3,520 405,510C406.7,500 420.8,478.3 420,470C419.2,461.7 410,462.5 400,460C390,457.5 370,461.7 360,455C350,448.3 351.2,425.8 340,420C328.8,414.2 302.5,422.5 293,420C283.5,417.5 285.5,412.5 283,405C280.5,397.5 287.2,378.3 278,375C268.8,371.7 244.7,380.8 228,385C211.3,389.2 190.5,400.8 178,400C165.5,399.2 161.3,386.7 153,380C144.7,373.3 136.3,366.7 128,360C119.7,353.3 109.2,350 103,340C96.8,330 89.7,311.7 90.5,300Z"/></clipPath>
<g clip-path="url(#c4)">
<path d="M-100,-100 2000,-100 2000,2000 -100,2000Z" fill="#d95847"/>
<path d="M130,420C138,416.7 161.7,406.7 178,400C194.3,393.3 211.3,386.7 228,380C244.7,373.3 263,366.7 278,360C293,353.3 304.7,348.3 318,340C331.3,331.7 344.7,320.8 358,310C371.3,299.2 383,289.2 398,275C413,260.8 430.5,237.5 448,225C465.5,212.5 485.5,207.5 503,200C520.5,192.5 536.3,186.7 553,180C569.7,173.3 586.3,167.5 603,160C619.7,152.5 636.3,141.7 653,135C669.7,128.3 686.3,123.8 703,120C719.7,116.2 736.8,115.5 753,112.5C769.2,109.5 780,106.6 800,102C820,97.4 848.3,83.7 873,85C897.7,86.3 927.2,102.9 948,110C968.8,117.1 981.3,121.2 998,127.5C1014.7,133.8 1031.3,141.2 1048,147.5C1064.7,153.8 1081.3,159.6 1098,165C1114.7,170.4 1131.3,173.3 1148,180C1164.7,186.7 1181.3,196.7 1198,205C1214.7,213.3 1231.3,220 1248,230C1264.7,240 1281.3,253.3 1298,265C1314.7,276.7 1331.3,287.5 1348,300C1364.7,312.5 1385.5,329.2 1398,340C1410.5,350.8 1414.7,359.7 1423,365C1431.3,370.3 1435.2,366.2 1448,372C1460.8,377.8 1491.3,395.3 1500,400L1500,3000 L130,3000 Z" fill="#f18d6f"/>
<path d="M250,400C254.7,396.7 266.7,386.7 278,380C289.3,373.3 304.7,368.3 318,360C331.3,351.7 344.7,341.7 358,330C371.3,318.3 382.2,305.8 398,290C413.8,274.2 435.5,248.3 453,235C470.5,221.7 486.3,217.5 503,210C519.7,202.5 536.3,196.7 553,190C569.7,183.3 586.3,177.5 603,170C619.7,162.5 636.3,152.1 653,145C669.7,137.9 686.3,131.8 703,127.5C719.7,123.2 736.8,122.2 753,119C769.2,115.8 783.8,111.3 800,108C816.2,104.7 837.8,101.5 850,99C862.2,96.5 856.7,89.9 873,93C889.3,96.1 927.2,110.5 948,117.5C968.8,124.5 981.3,128.3 998,135C1014.7,141.7 1031.3,151.2 1048,157.5C1064.7,163.8 1081.3,166.7 1098,172.5C1114.7,178.3 1131.3,185 1148,192.5C1164.7,200 1181.3,208.8 1198,217.5C1214.7,226.2 1231.3,234.6 1248,245C1264.7,255.4 1281.3,267.5 1298,280C1314.7,292.5 1333,306.7 1348,320C1363,333.3 1378,350.3 1388,360C1398,369.7 1397.7,371.3 1408,378C1418.3,384.7 1443,396.3 1450,400L1450,3000 L250,3000 Z" fill="#f7b89c"/>
<path d="M260,410C263.8,407.1 271.7,399.2 283,392.5C294.3,385.8 313.8,378.8 328,370C342.2,361.2 354.7,351.7 368,340C381.3,328.3 393,316.2 408,300C423,283.8 441.3,256.7 458,242.5C474.7,228.3 491.3,222.9 508,215C524.7,207.1 541.3,201.7 558,195C574.7,188.3 591.3,182.5 608,175C624.7,167.5 641.3,157.1 658,150C674.7,142.9 691.3,137.1 708,132.5C724.7,127.9 741.8,125.8 758,122.5C774.2,119.2 788.3,115.9 805,113C821.7,110.1 845.5,107.2 858,105C870.5,102.8 865,97.1 880,100C895,102.9 928.3,115.8 948,122.5C967.7,129.2 981.3,132.9 998,140C1014.7,147.1 1031.3,158.3 1048,165C1064.7,171.7 1081.3,174.2 1098,180C1114.7,185.8 1131.3,192.5 1148,200C1164.7,207.5 1181.3,215.8 1198,225C1214.7,234.2 1231.3,243.8 1248,255C1264.7,266.2 1281.3,279.2 1298,292.5C1314.7,305.8 1334.7,321.2 1348,335C1361.3,348.8 1369.7,366.2 1378,375C1386.3,383.8 1387.7,382.2 1398,388C1408.3,393.8 1433,406.3 1440,410L1440,3000 L260,3000 Z" fill="#ead4c8"/>
<path d="M270,420C272.2,417.5 271.7,412.5 283,405C294.3,397.5 322.2,385 338,375C353.8,365 364.7,356.7 378,345C391.3,333.3 403,321.2 418,305C433,288.8 451.3,261.7 468,247.5C484.7,233.3 501.3,228.1 518,220C534.7,211.9 551.3,205.8 568,199C584.7,192.2 601.3,186.3 618,179C634.7,171.7 651.3,162.2 668,155C684.7,147.8 701.3,140.8 718,136C734.7,131.2 752.7,129 768,126C783.3,123 792.5,121 810,118C827.5,115 850,106.4 873,108C896,109.6 927.2,121.3 948,127.5C968.8,133.7 981.3,137.9 998,145C1014.7,152.1 1031.3,162.9 1048,170C1064.7,177.1 1081.3,180.8 1098,187.5C1114.7,194.2 1131.3,202.1 1148,210C1164.7,217.9 1181.3,225.8 1198,235C1214.7,244.2 1231.3,253.3 1248,265C1264.7,276.7 1281.3,290.8 1298,305C1314.7,319.2 1335.5,336.7 1348,350C1360.5,363.3 1365.5,376.3 1373,385C1380.5,393.7 1383.5,396.2 1393,402C1402.5,407.8 1423.8,417 1430,420L1430,3000 L270,3000 Z" fill="#cdd9ec"/>
<path d="M280,430C282.2,428.3 283.3,426.7 293,420C302.7,413.3 322.2,401.7 338,390C353.8,378.3 373,363.3 388,350C403,336.7 413,325.8 428,310C443,294.2 461.3,268.3 478,255C494.7,241.7 511.3,237.9 528,230C544.7,222.1 565.5,213.3 578,207.5C590.5,201.7 594.7,199.6 603,195C611.3,190.4 617.2,184.2 628,180C638.8,175.8 655.5,174.2 668,170C680.5,165.8 688.8,160 703,155C717.2,150 736.3,144.2 753,140C769.7,135.8 787.2,132.5 803,130C818.8,127.5 832.2,123.3 848,125C863.8,126.7 881.3,135.8 898,140C914.7,144.2 931.3,145.8 948,150C964.7,154.2 981.3,159.2 998,165C1014.7,170.8 1031.3,177.5 1048,185C1064.7,192.5 1081.3,201.7 1098,210C1114.7,218.3 1131.3,227.5 1148,235C1164.7,242.5 1181.3,246.7 1198,255C1214.7,263.3 1231.3,274.2 1248,285C1264.7,295.8 1283,308.3 1298,320C1313,331.7 1325.5,343.3 1338,355C1350.5,366.7 1363,378.8 1373,390C1383,401.2 1388.5,413.7 1398,422C1407.5,430.3 1424.7,437 1430,440L1430,3000 L280,3000 Z" fill="#aac7fd"/>
<path d="M420,545C419.2,535 436.7,524.2 445,510C453.3,495.8 460.8,475 470,460C479.2,445 488.3,434.7 500,420C511.7,405.3 526.7,385.7 540,372C553.3,358.3 571.2,344.2 580,338C588.8,331.8 588,337.7 593,335C598,332.3 604.2,324.5 610,322C615.8,319.5 616.7,322.8 628,320C639.3,317.2 661.3,308.3 678,305C694.7,301.7 713.8,304.2 728,300C742.2,295.8 758.8,291.7 763,280C767.2,268.3 750.5,239.2 753,230C755.5,220.8 769.7,222.5 778,225C786.3,227.5 794.7,237.5 803,245C811.3,252.5 815.5,264.2 828,270C840.5,275.8 866.3,277.5 878,280C889.7,282.5 886.3,286.7 898,285C909.7,283.3 937.2,279.2 948,270C958.8,260.8 963,241.7 963,230C963,218.3 946.3,206.7 948,200C949.7,193.3 963,188.3 973,190C983,191.7 995.5,205 1008,210C1020.5,215 1037.2,214.2 1048,220C1058.8,225.8 1064.7,238.3 1073,245C1081.3,251.7 1090.5,254.2 1098,260C1105.5,265.8 1113.8,270 1118,280C1122.2,290 1123,308.3 1123,320C1123,331.7 1113.8,340 1118,350C1122.2,360 1136.3,368.3 1148,380C1159.7,391.7 1176,406.7 1188,420C1200,433.3 1209.7,450 1220,460C1230.3,470 1243.3,473.3 1250,480C1256.7,486.7 1261.7,493.3 1260,500C1258.3,506.7 1243.3,510 1240,520C1236.7,530 1246.7,546.7 1240,560C1233.3,573.3 1215,590 1200,600C1185,610 1166.7,608.3 1150,620C1133.3,631.7 1125,653.3 1100,670C1075,686.7 1033.3,711.7 1000,720C966.7,728.3 950,720 900,720C850,720 746.7,723.3 700,720C653.3,716.7 643.3,711.7 620,700C596.7,688.3 580,666.7 560,650C540,633.3 518.3,613.3 500,600C481.7,586.7 463.3,579.2 450,570C436.7,560.8 420.8,555 420,545Z" fill="#cdd9ec"/>
<path d="M600,200C601.7,193.3 617.5,185 625,185C632.5,185 642.5,193.3 645,200C647.5,206.7 645,220.8 640,225C635,229.2 621.7,229.2 615,225C608.3,220.8 598.3,206.7 600,200Z" fill="#cdd9ec"/>
<ellipse cx="845" cy="217" rx="28" ry="13" transform="rotate(-20 845 217)" fill="#cdd9ec"/>
<ellipse cx="931" cy="225" rx="36" ry="21" transform="rotate(0 931 225)" fill="#cdd9ec"/>
<ellipse cx="1020" cy="232" rx="22" ry="18" transform="rotate(0 1020 232)" fill="#cdd9ec"/>
<ellipse cx="528" cy="270" rx="12" ry="18" transform="rotate(-30 528 270)" fill="#cdd9ec"/>
<ellipse cx="775" cy="162" rx="75" ry="15" transform="rotate(-13 775 162)" fill="#82a6fb"/>
<ellipse cx="906" cy="167" rx="24" ry="8" transform="rotate(0 906 167)" fill="#82a6fb"/>
<ellipse cx="1045" cy="205" rx="55" ry="11" transform="rotate(22 1045 205)" fill="#82a6fb"/>
<ellipse cx="1190" cy="280" rx="13" ry="15" transform="rotate(0 1190 280)" fill="#82a6fb"/>
<ellipse cx="1240" cy="312" rx="17" ry="12" transform="rotate(0 1240 312)" fill="#82a6fb"/>
<ellipse cx="538" cy="250" rx="14" ry="14" transform="rotate(0 538 250)" fill="#82a6fb"/>
<ellipse cx="425" cy="325" rx="18" ry="10" transform="rotate(-20 425 325)" fill="#82a6fb"/>
<ellipse cx="393" cy="397" rx="55" ry="22" transform="rotate(-10 393 397)" fill="#82a6fb"/>
<ellipse cx="368" cy="400" rx="12" ry="8" transform="rotate(-20 368 400)" fill="#5d7ce6"/>
<path d="M1280,420C1285.8,410 1306.7,402.5 1320,400C1333.3,397.5 1346.7,400 1360,405C1373.3,410 1392.5,422.5 1400,430C1407.5,437.5 1408.3,444.2 1405,450C1401.7,455.8 1390.8,461.7 1380,465C1369.2,468.3 1351.7,465.8 1340,470C1328.3,474.2 1318.3,485.8 1310,490C1301.7,494.2 1294.2,500 1290,495C1285.8,490 1286.7,472.5 1285,460C1283.3,447.5 1274.2,430 1280,420Z" fill="#82a6fb"/>
<path d="M1330,430C1335,424.7 1357.5,418.3 1370,420C1382.5,421.7 1402.5,433.7 1405,440C1407.5,446.3 1395.8,456 1385,458C1374.2,460 1349.2,456.7 1340,452C1330.8,447.3 1325,435.3 1330,430Z" fill="#5d7ce6"/>
<path d="M590,600C595,590 618.3,586.7 630,590C641.7,593.3 655,605 660,620C665,635 663.3,668.3 660,680C656.7,691.7 650,695 640,690C630,685 608.3,665 600,650C591.7,635 585,610 590,600Z" fill="#aac7fd"/>
<path d="M1040,620C1045.8,614.2 1070,620 1075,625C1080,630 1075.8,644.2 1070,650C1064.2,655.8 1045,665 1040,660C1035,655 1034.2,625.8 1040,620Z" fill="#aac7fd"/>
<path d="M740,690C745,684.2 768,680 775,685C782,690 787,714.2 782,720C777,725.8 752,725 745,720C738,715 735,695.8 740,690Z" fill="#5d7ce6"/>
<path d="M850,688C856.7,685.5 885,687.2 890,690C895,692.8 886.7,702.5 880,705C873.3,707.5 855,707.8 850,705C845,702.2 843.3,690.5 850,688Z" fill="#82a6fb"/>
<ellipse cx="695" cy="555" rx="5" ry="22" transform="rotate(15 695 555)" fill="#82a6fb"/>
<ellipse cx="370" cy="242" rx="15" ry="12" transform="rotate(-20 370 242)" fill="#b40426"/>
<ellipse cx="304" cy="283" rx="22" ry="15" transform="rotate(-30 304 283)" fill="#b40426"/>
<ellipse cx="241" cy="311" rx="35" ry="19" transform="rotate(-20 241 311)" fill="#b40426"/>
<ellipse cx="137" cy="340" rx="30" ry="11" transform="rotate(-25 137 340)" fill="#b40426"/>
<ellipse cx="1295" cy="235" rx="15" ry="12" transform="rotate(0 1295 235)" fill="#b40426"/>
<path d="M1343,255C1345.5,251.7 1349.7,245 1363,250C1376.3,255 1404.7,275.8 1423,285C1441.3,294.2 1456.3,299.2 1473,305C1489.7,310.8 1508.8,316.7 1523,320C1537.2,323.3 1555.5,320.8 1558,325C1560.5,329.2 1541.3,338.3 1538,345C1534.7,351.7 1542.2,362.5 1538,365C1533.8,367.5 1525.5,364.2 1513,360C1500.5,355.8 1478,347.5 1463,340C1448,332.5 1438,325 1423,315C1408,305 1385.5,287.5 1373,280C1360.5,272.5 1353,274.2 1348,270C1343,265.8 1340.5,258.3 1343,255Z" fill="#b40426"/>
</g>
</g>
<g transform="translate(941,1260) scale(0.5)">
<clipPath id="c5"><path d="M90,300C90,290.8 88.3,283.3 95,275C101.7,266.7 117.5,258.3 130,250C142.5,241.7 157.5,232.8 170,225C182.5,217.2 193.3,204.7 205,203C216.7,201.3 228.3,214.7 240,215C251.7,215.3 265,210 275,205C285,200 290.8,192.8 300,185C309.2,177.2 316.7,163 330,158C343.3,153 366.7,156 380,155C393.3,154 401.7,157.5 410,152C418.3,146.5 420,128.2 430,122C440,115.8 458.3,122 470,115C481.7,108 490,86.2 500,80C510,73.8 518.3,76 530,78C541.7,80 558.3,89.7 570,92C581.7,94.3 588.3,96 600,92C611.7,88 626.7,76.3 640,68C653.3,59.7 666.7,47.5 680,42C693.3,36.5 706.7,34.5 720,35C733.3,35.5 747.5,45.8 760,45C772.5,44.2 783.3,30.8 795,30C806.7,29.2 815.8,35.8 830,40C844.2,44.2 865,54.7 880,55C895,55.3 908.3,42.8 920,42C931.7,41.2 939.2,45.3 950,50C960.8,54.7 973.3,66.7 985,70C996.7,73.3 1004.2,69.2 1020,70C1035.8,70.8 1065,73.3 1080,75C1095,76.7 1100,75 1110,80C1120,85 1128.3,100 1140,105C1151.7,110 1163.3,109.2 1180,110C1196.7,110.8 1227.5,104.2 1240,110C1252.5,115.8 1245,138 1255,145C1265,152 1285.8,151.2 1300,152C1314.2,152.8 1330,145.3 1340,150C1350,154.7 1350,177.5 1360,180C1370,182.5 1385,163.3 1400,165C1415,166.7 1436.7,182.5 1450,190C1463.3,197.5 1466.7,205.8 1480,210C1493.3,214.2 1515,212.5 1530,215C1545,217.5 1558.3,220 1570,225C1581.7,230 1594.2,236.7 1600,245C1605.8,253.3 1606.7,265.8 1605,275C1603.3,284.2 1597.5,293.3 1590,300C1582.5,306.7 1568.3,310 1560,315C1551.7,320 1544.2,320.8 1540,330C1535.8,339.2 1540,362.5 1535,370C1530,377.5 1519.2,374.7 1510,375C1500.8,375.3 1491.7,372.8 1480,372C1468.3,371.2 1453.3,369.5 1440,370C1426.7,370.5 1407.5,370.8 1400,375C1392.5,379.2 1394.2,387.5 1395,395C1395.8,402.5 1405.8,411.7 1405,420C1404.2,428.3 1397.5,439.2 1390,445C1382.5,450.8 1370,452.5 1360,455C1350,457.5 1338.3,455 1330,460C1321.7,465 1318.3,480 1310,485C1301.7,490 1291.7,488.8 1280,490C1268.3,491.2 1251.7,490.3 1240,492C1228.3,493.7 1213.3,495.3 1210,500C1206.7,504.7 1217.5,512.5 1220,520C1222.5,527.5 1228.3,537.5 1225,545C1221.7,552.5 1210.8,559.2 1200,565C1189.2,570.8 1170,574.2 1160,580C1150,585.8 1145,591.7 1140,600C1135,608.3 1136.7,622.5 1130,630C1123.3,637.5 1111.7,640 1100,645C1088.3,650 1071.7,656.7 1060,660C1048.3,663.3 1038.3,661.7 1030,665C1021.7,668.3 1016.7,675.8 1010,680C1003.3,684.2 1000,686.7 990,690C980,693.3 960,700 950,700C940,700 935,694.2 930,690C925,685.8 925,677.5 920,675C915,672.5 906.7,672.5 900,675C893.3,677.5 886.7,689.2 880,690C873.3,690.8 866.7,684.2 860,680C853.3,675.8 850,669.2 840,665C830,660.8 810,655 800,655C790,655 784.2,659.2 780,665C775.8,670.8 776.7,683.3 775,690C773.3,696.7 775.8,703.3 770,705C764.2,706.7 751.7,702.5 740,700C728.3,697.5 713.3,692.5 700,690C686.7,687.5 671.7,689.2 660,685C648.3,680.8 640,671.7 630,665C620,658.3 608.3,652.5 600,645C591.7,637.5 584.2,627.5 580,620C575.8,612.5 581.7,604.2 575,600C568.3,595.8 548.3,596.7 540,595C531.7,593.3 528.3,595.8 525,590C521.7,584.2 519.2,568.3 520,560C520.8,551.7 533.3,545 530,540C526.7,535 510,534.2 500,530C490,525.8 480,514.2 470,515C460,515.8 450,533.3 440,535C430,536.7 415.8,530 410,525C404.2,520 405,512.5 405,505C405,497.5 410.8,486.7 410,480C409.2,473.3 406.7,468.3 400,465C393.3,461.7 379.2,465.8 370,460C360.8,454.2 350,437.5 345,430C340,422.5 349.2,419.2 340,415C330.8,410.8 300.8,410.8 290,405C279.2,399.2 280,385.8 275,380C270,374.2 267.5,370 260,370C252.5,370 241.7,376.7 230,380C218.3,383.3 201.7,390 190,390C178.3,390 168.3,385 160,380C151.7,375 148.3,365 140,360C131.7,355 117.5,355 110,350C102.5,345 98.3,338.3 95,330C91.7,321.7 90,309.2 90,300Z"/></clipPath>
<g clip-path="url(#c5)">
<path d="M-100,-100 2000,-100 2000,2000 -100,2000Z" fill="#5d7ce6"/>
<path d="M60,310C65,309.2 78.3,308.3 90,305C101.7,301.7 116.7,294.2 130,290C143.3,285.8 156.7,283.3 170,280C183.3,276.7 196.7,273.7 210,270C223.3,266.3 238.3,261.3 250,258C261.7,254.7 271.7,253.8 280,250C288.3,246.2 293.3,239.2 300,235C306.7,230.8 310,230 320,225C330,220 346.7,210.8 360,205C373.3,199.2 386.7,194.5 400,190C413.3,185.5 426.7,182.2 440,178C453.3,173.8 466.7,169.7 480,165C493.3,160.3 506.7,155 520,150C533.3,145 546.7,140.3 560,135C573.3,129.7 586.7,124.2 600,118C613.3,111.8 626.7,104 640,98C653.3,92 666.7,86.3 680,82C693.3,77.7 706.7,75.3 720,72C733.3,68.7 750,64.8 760,62C770,59.2 773.3,55.7 780,55C786.7,54.3 790,56.3 800,58C810,59.7 826.7,63.3 840,65C853.3,66.7 870,68.5 880,68C890,67.5 893.3,61.7 900,62C906.7,62.3 913.3,66.2 920,70C926.7,73.8 931.7,81.3 940,85C948.3,88.7 960,91.2 970,92C980,92.8 988.3,89.5 1000,90C1011.7,90.5 1026.7,92.5 1040,95C1053.3,97.5 1066.7,101.2 1080,105C1093.3,108.8 1106.7,113.8 1120,118C1133.3,122.2 1146.7,124.7 1160,130C1173.3,135.3 1186.7,143.3 1200,150C1213.3,156.7 1226.7,164.2 1240,170C1253.3,175.8 1266.7,180 1280,185C1293.3,190 1306.7,194.2 1320,200C1333.3,205.8 1346.7,214.2 1360,220C1373.3,225.8 1386.7,229.2 1400,235C1413.3,240.8 1426.7,249.2 1440,255C1453.3,260.8 1466.7,265 1480,270C1493.3,275 1506.7,280.8 1520,285C1533.3,289.2 1546.7,291.7 1560,295C1573.3,298.3 1585,302.5 1600,305C1615,307.5 1641.7,309.2 1650,310L1650,3000 L60,3000 Z" fill="#3b4cc0"/>
</g>
</g>
<g transform="translate(941,1625) scale(0.5)">
<clipPath id="c6"><path d="M90.5,300C91.3,288.3 97.6,280 108,270C118.4,260 137.2,250.4 153,240C168.8,229.6 188,210.8 203,207.5C218,204.2 230.5,220.4 243,220C255.5,219.6 265.5,213.8 278,205C290.5,196.2 308,175 318,167.5C328,160 323,161.7 338,160C353,158.3 392.2,163.3 408,157.5C423.8,151.7 421.3,132.1 433,125C444.7,117.9 465.5,122.1 478,115C490.5,107.9 499.7,87.5 508,82.5C516.3,77.5 516.3,82.5 528,85C539.7,87.5 565.5,95.8 578,97.5C590.5,99.2 594.7,98.8 603,95C611.3,91.2 615.5,84.2 628,75C640.5,65.8 663,45.8 678,40C693,34.2 705.5,38.8 718,40C730.5,41.2 741.3,48.3 753,47.5C764.7,46.7 777.2,36.7 788,35C798.8,33.3 803.8,33.3 818,37.5C832.2,41.7 855.5,58.3 873,60C890.5,61.7 912.2,49.2 923,47.5C933.8,45.8 927.2,45.4 938,50C948.8,54.6 971.3,71.2 988,75C1004.7,78.8 1018,70.8 1038,72.5C1058,74.2 1088.8,78.3 1108,85C1127.2,91.7 1131.3,107.5 1153,112.5C1174.7,117.5 1220.5,107.9 1238,115C1255.5,122.1 1240.5,148.3 1258,155C1275.5,161.7 1326.3,149.6 1343,155C1359.7,160.4 1348.8,185 1358,187.5C1367.2,190 1383,170.4 1398,170C1413,169.6 1429.7,176.7 1448,185C1466.3,193.3 1485.5,212.5 1508,220C1530.5,227.5 1568,225 1583,230C1598,235 1594.7,241.7 1598,250C1601.3,258.3 1604.7,269.2 1603,280C1601.3,290.8 1597.2,307.5 1588,315C1578.8,322.5 1556.3,320 1548,325C1539.7,330 1539.7,336.7 1538,345C1536.3,353.3 1542.2,369.2 1538,375C1533.8,380.8 1528,380.8 1513,380C1498,379.2 1466.3,370.8 1448,370C1429.7,369.2 1412.2,371.2 1403,375C1393.8,378.8 1392.7,385 1393,392.5C1393.3,400 1402.2,410.4 1405,420C1407.8,429.6 1414.2,442.5 1410,450C1405.8,457.5 1390,461.7 1380,465C1370,468.3 1360,465.8 1350,470C1340,474.2 1331.7,485.8 1320,490C1308.3,494.2 1293.3,493.3 1280,495C1266.7,496.7 1250.8,498.3 1240,500C1229.2,501.7 1217.5,498.3 1215,505C1212.5,511.7 1225.8,530 1225,540C1224.2,550 1220.8,556.7 1210,565C1199.2,573.3 1171.7,579.2 1160,590C1148.3,600.8 1150,620 1140,630C1130,640 1113.3,642.5 1100,650C1086.7,657.5 1076.7,668.3 1060,675C1043.3,681.7 1016.7,685 1000,690C983.3,695 971.7,705 960,705C948.3,705 940,693.3 930,690C920,686.7 908.3,684.2 900,685C891.7,685.8 890,694.2 880,695C870,695.8 853.3,691.7 840,690C826.7,688.3 810,683.3 800,685C790,686.7 785,695.5 780,700C775,704.5 776.7,711.2 770,712C763.3,712.8 751.7,707 740,705C728.3,703 714.2,702.2 700,700C685.8,697.8 666.7,697.8 655,692C643.3,686.2 640.8,672.8 630,665C619.2,657.2 598.3,654.2 590,645C581.7,635.8 590,616.7 580,610C570,603.3 540,610 530,605C520,600 520.8,589.2 520,580C519.2,570.8 533.3,560 525,550C516.7,540 484.2,521.7 470,520C455.8,518.3 450,538.3 440,540C430,541.7 415.8,535 410,530C404.2,525 403.3,520 405,510C406.7,500 420.8,478.3 420,470C419.2,461.7 410,462.5 400,460C390,457.5 370,461.7 360,455C350,448.3 351.2,425.8 340,420C328.8,414.2 302.5,422.5 293,420C283.5,417.5 285.5,412.5 283,405C280.5,397.5 287.2,378.3 278,375C268.8,371.7 244.7,380.8 228,385C211.3,389.2 190.5,400.8 178,400C165.5,399.2 161.3,386.7 153,380C144.7,373.3 136.3,366.7 128,360C119.7,353.3 109.2,350 103,340C96.8,330 89.7,311.7 90.5,300Z"/></clipPath>
<g clip-path="url(#c6)">
<path d="M-100,-100 2000,-100 2000,2000 -100,2000Z" fill="#3b4cc0"/>
<path d="M90,390C101.3,387.5 132.5,381.7 158,375C183.5,368.3 214.7,360.8 243,350C271.3,339.2 300.5,327.5 328,310C355.5,292.5 389.7,261.7 408,245C426.3,228.3 419.7,220.8 438,210C456.3,199.2 488,191.7 518,180C548,168.3 593,150.4 618,140C643,129.6 643,125.8 668,117.5C693,109.2 738.8,95.4 768,90C797.2,84.6 823.8,87.9 843,85C862.2,82.1 865.5,69.2 883,72.5C900.5,75.8 924.7,97.1 948,105C971.3,112.9 998,114.2 1023,120C1048,125.8 1078.8,135.4 1098,140C1117.2,144.6 1125.5,140.8 1138,147.5C1150.5,154.2 1158.8,169.6 1173,180C1187.2,190.4 1206.3,200 1223,210C1239.7,220 1256.3,230 1273,240C1289.7,250 1306.3,260.8 1323,270C1339.7,279.2 1356.3,285 1373,295C1389.7,305 1406.3,319.2 1423,330C1439.7,340.8 1454.7,352.1 1473,360C1491.3,367.9 1511.8,371.7 1533,377.5C1554.2,383.3 1588.8,392.1 1600,395L1600,3000 L90,3000 Z" fill="#5d7ce6"/>
<path d="M120,410C130.5,408.3 158.3,405.8 183,400C207.7,394.2 243.8,383.3 268,375C292.2,366.7 313,357.5 328,350C343,342.5 346.3,338.3 358,330C369.7,321.7 386.3,311.7 398,300C409.7,288.3 416.3,270 428,260C439.7,250 453,247.5 468,240C483,232.5 501.3,223.3 518,215C534.7,206.7 551.3,198.3 568,190C584.7,181.7 601.3,174.2 618,165C634.7,155.8 651.3,142.9 668,135C684.7,127.1 701.3,122.5 718,117.5C734.7,112.5 751.3,107.9 768,105C784.7,102.1 801.3,102.5 818,100C834.7,97.5 857.2,92.1 868,90C878.8,87.9 869.7,83.3 883,87.5C896.3,91.7 924.7,106.2 948,115C971.3,123.8 998,131.2 1023,140C1048,148.8 1073,156.7 1098,167.5C1123,178.3 1152.2,194.6 1173,205C1193.8,215.4 1206.3,220 1223,230C1239.7,240 1256.3,253.3 1273,265C1289.7,276.7 1306.3,288.3 1323,300C1339.7,311.7 1356.3,324.2 1373,335C1389.7,345.8 1406.3,358.3 1423,365C1439.7,371.7 1451.8,370.8 1473,375C1494.2,379.2 1537.2,387.5 1550,390L1550,3000 L120,3000 Z" fill="#82a6fb"/>
<path d="M250,410C255.5,407.5 270,400.8 283,395C296,389.2 313.8,382.5 328,375C342.2,367.5 354.7,360 368,350C381.3,340 395.5,326.7 408,315C420.5,303.3 431.3,289.2 443,280C454.7,270.8 465.5,266.7 478,260C490.5,253.3 503,247.5 518,240C533,232.5 551.3,223.3 568,215C584.7,206.7 601.3,199.2 618,190C634.7,180.8 651.3,168.8 668,160C684.7,151.2 701.3,143.8 718,137.5C734.7,131.2 751.3,126.2 768,122.5C784.7,118.8 801.3,117.9 818,115C834.7,112.1 857.2,108.3 868,105C878.8,101.7 869.7,92.1 883,95C896.3,97.9 924.7,112.9 948,122.5C971.3,132.1 998,142.9 1023,152.5C1048,162.1 1073,168.8 1098,180C1123,191.2 1152.2,208.3 1173,220C1193.8,231.7 1206.3,239.2 1223,250C1239.7,260.8 1256.3,273.3 1273,285C1289.7,296.7 1306.3,308.3 1323,320C1339.7,331.7 1358.8,345 1373,355C1387.2,365 1395.2,372.5 1408,380C1420.8,387.5 1443,396.7 1450,400L1450,3000 L250,3000 Z" fill="#aac7fd"/>
<path d="M260,425C264.7,422.5 275.8,415.8 288,410C300.2,404.2 318,398.3 333,390C348,381.7 363.8,370 378,360C392.2,350 404.7,340.8 418,330C431.3,319.2 445.5,304.2 458,295C470.5,285.8 478.8,282.5 493,275C507.2,267.5 526.3,258.3 543,250C559.7,241.7 576.3,234.2 593,225C609.7,215.8 626.3,205 643,195C659.7,185 676.3,174.2 693,165C709.7,155.8 726.3,145.8 743,140C759.7,134.2 776.3,132.9 793,130C809.7,127.1 828,127.1 843,122.5C858,117.9 865.5,101.2 883,102.5C900.5,103.8 924.7,120.4 948,130C971.3,139.6 998,150 1023,160C1048,170 1073,178.3 1098,190C1123,201.7 1152.2,218.3 1173,230C1193.8,241.7 1206.3,248.3 1223,260C1239.7,271.7 1256.3,287.5 1273,300C1289.7,312.5 1306.3,322.5 1323,335C1339.7,347.5 1360.5,364.2 1373,375C1385.5,385.8 1388.5,392.5 1398,400C1407.5,407.5 1424.7,416.7 1430,420L1430,3000 L260,3000 Z" fill="#cdd9ec"/>
<path d="M261.9,428.5C266.5,426 277.6,419.4 289.7,413.6C301.9,407.8 319.8,401.9 334.9,393.5C350,385.1 366,373.3 380.3,363.3C394.6,353.2 407.2,343.9 420.5,333.1C433.9,322.3 448,307.3 460.4,298.2C472.8,289.1 480.8,286 494.9,278.5C508.9,271.1 528.1,261.9 544.8,253.6C561.5,245.2 578.2,237.7 594.9,228.5C611.6,219.3 628.4,208.4 645.1,198.4C661.7,188.4 678.4,177.6 694.9,168.5C711.5,159.4 727.9,149.5 744.3,143.8C760.8,138 777,136.8 793.7,133.9C810.3,131 829.3,130.9 844.2,126.3C859,121.8 865.7,105.3 882.7,106.5C899.8,107.7 923.3,124.2 946.5,133.7C969.6,143.2 996.5,153.7 1021.5,163.7C1046.5,173.7 1071.4,182 1096.3,193.6C1121.2,205.3 1150.3,221.9 1171,233.5C1191.8,245.1 1204.1,251.7 1220.7,263.3C1237.3,274.9 1254,290.7 1270.6,303.2C1287.2,315.7 1304,325.7 1320.6,338.2C1337.2,350.7 1357.9,367.2 1370.4,378C1382.9,388.8 1385.9,395.6 1395.5,403.1C1405.1,410.7 1422.5,420 1427.9,423.4L1427.9,3000 L261.9,3000 Z" fill="#ead4c8"/>
<path d="M270,435C273.8,432.1 280.8,423.3 293,417.5C305.2,411.7 327.2,407.9 343,400C358.8,392.1 373.8,380 388,370C402.2,360 414.7,350.8 428,340C441.3,329.2 454.7,315 468,305C481.3,295 493,288.3 508,280C523,271.7 541.3,263.3 558,255C574.7,246.7 591.3,239.2 608,230C624.7,220.8 641.3,210 658,200C674.7,190 691.3,178.3 708,170C724.7,161.7 741.3,155.4 758,150C774.7,144.6 791.3,141.2 808,137.5C824.7,133.8 845.5,131.7 858,127.5C870.5,123.3 868,110.4 883,112.5C898,114.6 924.7,130.4 948,140C971.3,149.6 998,160 1023,170C1048,180 1077.2,190 1098,200C1118.8,210 1131.3,221.7 1148,230C1164.7,238.3 1181.3,241.7 1198,250C1214.7,258.3 1231.3,267.5 1248,280C1264.7,292.5 1281.3,310 1298,325C1314.7,340 1331.3,355.8 1348,370C1364.7,384.2 1386,400 1398,410C1410,420 1416.3,426.7 1420,430L1420,3000 L270,3000 Z" fill="#f7b89c"/>
<path d="M420,530C413.3,520 431.7,501.7 440,490C448.3,478.3 463.3,473.3 470,460C476.7,446.7 471.7,425 480,410C488.3,395 506.7,381.7 520,370C533.3,358.3 548.3,351.7 560,340C571.7,328.3 585,313.3 590,300C595,286.7 593.3,273.3 590,260C586.7,246.7 568.3,231.7 570,220C571.7,208.3 588.3,196.7 600,190C611.7,183.3 626.7,180 640,180C653.3,180 670,183.3 680,190C690,196.7 690,213.3 700,220C710,226.7 730,230 740,230C750,230 750,224.2 760,220C770,215.8 786.7,207.5 800,205C813.3,202.5 828.3,203.3 840,205C851.7,206.7 860,215.8 870,215C880,214.2 888.3,201.7 900,200C911.7,198.3 930,200.8 940,205C950,209.2 951.7,220.8 960,225C968.3,229.2 981.7,224.2 990,230C998.3,235.8 1003.3,250 1010,260C1016.7,270 1020,283.3 1030,290C1040,296.7 1058.3,295 1070,300C1081.7,305 1091.7,310 1100,320C1108.3,330 1110,348.3 1120,360C1130,371.7 1146.7,380 1160,390C1173.3,400 1186.7,410 1200,420C1213.3,430 1230,438.3 1240,450C1250,461.7 1262.5,476.7 1260,490C1257.5,503.3 1235,516.7 1225,530C1215,543.3 1210.8,560 1200,570C1189.2,580 1176.7,573.3 1160,590C1143.3,606.7 1126.7,650 1100,670C1073.3,690 1050,703.3 1000,710C950,716.7 856.7,713.3 800,710C743.3,706.7 685,701.7 660,690C635,678.3 653.3,653.3 650,640C646.7,626.7 648.3,615 640,610C631.7,605 610,613.3 600,610C590,606.7 590,594.2 580,590C570,585.8 551.7,586.7 540,585C528.3,583.3 520,585.8 510,580C500,574.2 495,558.3 480,550C465,541.7 426.7,540 420,530Z" fill="#ead4c8"/>
<path d="M625,290C626.7,282.7 640.8,278.3 650,278C659.2,277.7 676.3,281.8 680,288C683.7,294.2 678.7,309.3 672,315C665.3,320.7 647.8,326.2 640,322C632.2,317.8 623.3,297.3 625,290Z" fill="#f7b89c"/>
<path d="M840,230C848.7,224.7 884.2,226.7 900,230C915.8,233.3 931.7,242.5 935,250C938.3,257.5 929.2,269.7 920,275C910.8,280.3 892,284.2 880,282C868,279.8 854.7,270.7 848,262C841.3,253.3 831.3,235.3 840,230Z" fill="#f7b89c"/>
<path d="M580,600C585,588.7 608.3,597 620,602C631.7,607 643.3,617 650,630C656.7,643 651.7,670 660,680C668.3,690 703.3,685 700,690C696.7,695 658.3,713.3 640,710C621.7,706.7 600,688.3 590,670C580,651.7 575,611.3 580,600Z" fill="#f7b89c"/>
<path d="M850,678C855,673.5 870.8,673.8 880,675C889.2,676.2 901.7,680.5 905,685C908.3,689.5 909.2,699.2 900,702C890.8,704.8 858.3,706 850,702C841.7,698 845,682.5 850,678Z" fill="#f7b89c"/>
<path d="M1030,655C1035.8,650 1056.7,646.7 1060,650C1063.3,653.3 1055.8,670 1050,675C1044.2,680 1028.3,683.3 1025,680C1021.7,676.7 1024.2,660 1030,655Z" fill="#f7b89c"/>
<ellipse cx="520" cy="272" rx="12" ry="22" transform="rotate(-20 520 272)" fill="#ead4c8"/>
<path d="M710,162C716.7,155 740,145 760,140C780,135 815.3,131.7 830,132C844.7,132.3 846.3,137.7 848,142C849.7,146.3 851.3,153 840,158C828.7,163 800,168 780,172C760,176 731.7,183.7 720,182C708.3,180.3 703.3,169 710,162Z" fill="#f18d6f"/>
<path d="M1000,185C1005.8,183.8 1026.7,184.7 1040,188C1053.3,191.3 1072,199.3 1080,205C1088,210.7 1091,219.2 1088,222C1085,224.8 1071.7,224.8 1062,222C1052.3,219.2 1039.5,209.5 1030,205C1020.5,200.5 1010,198.3 1005,195C1000,191.7 994.2,186.2 1000,185Z" fill="#f18d6f"/>
<ellipse cx="912" cy="165" rx="8" ry="5" transform="rotate(0 912 165)" fill="#f18d6f"/>
<ellipse cx="537" cy="245" rx="9" ry="8" transform="rotate(0 537 245)" fill="#f18d6f"/>
<ellipse cx="425" cy="320" rx="9" ry="7" transform="rotate(0 425 320)" fill="#f18d6f"/>
<ellipse cx="1195" cy="277" rx="6" ry="8" transform="rotate(0 1195 277)" fill="#f18d6f"/>
<ellipse cx="1243" cy="308" rx="10" ry="8" transform="rotate(0 1243 308)" fill="#f18d6f"/>
<ellipse cx="1068" cy="637" rx="9" ry="7" transform="rotate(-30 1068 637)" fill="#f18d6f"/>
<path d="M320,400C325,391.7 362.5,385.3 380,382C397.5,378.7 415,377.8 425,380C435,382.2 440.8,389.2 440,395C439.2,400.8 430,410.5 420,415C410,419.5 391.7,419.2 380,422C368.3,424.8 360,435.7 350,432C340,428.3 315,408.3 320,400Z" fill="#f18d6f"/>
<path d="M340,432C343.7,431.3 361.7,443 372,448C382.3,453 400.7,458 402,462C403.3,466 388.7,473.7 380,472C371.3,470.3 356.7,458.7 350,452C343.3,445.3 336.3,432.7 340,432Z" fill="#f18d6f"/>
<path d="M1290,410C1295.8,397.7 1325,398.3 1340,398C1355,397.7 1369.2,402.7 1380,408C1390.8,413.3 1400.8,422.7 1405,430C1409.2,437.3 1410.5,446.7 1405,452C1399.5,457.3 1382.8,457 1372,462C1361.2,467 1351.2,480.3 1340,482C1328.8,483.7 1313.3,484 1305,472C1296.7,460 1284.2,422.3 1290,410Z" fill="#f18d6f"/>
<path d="M1350,430C1353.3,425 1370.8,420.3 1380,422C1389.2,423.7 1402.5,434 1405,440C1407.5,446 1402.5,456 1395,458C1387.5,460 1367.5,456.7 1360,452C1352.5,447.3 1346.7,435 1350,430Z" fill="#d95847"/>
<path d="M725,695C730,690 750,688.8 760,690C770,691.2 780.8,697 785,702C789.2,707 794.2,717 785,720C775.8,723 740,724.2 730,720C720,715.8 720,700 725,695Z" fill="#f18d6f"/>
<path d="M745,705C750,702 768.3,699.5 775,702C781.7,704.5 790,717 785,720C780,723 751.7,722.5 745,720C738.3,717.5 740,708 745,705Z" fill="#d95847"/>
<path d="M580,410C590.3,395 620,388.3 640,380C660,371.7 683.3,364.2 700,360C716.7,355.8 728.3,351.7 740,355C751.7,358.3 764.7,370.8 770,380C775.3,389.2 777,401.7 772,410C767,418.3 752,425 740,430C728,435 713.3,435 700,440C686.7,445 671.7,453.3 660,460C648.3,466.7 640,468.3 630,480C620,491.7 607.5,525 600,530C592.5,535 588.7,520 585,510C581.3,500 578.8,486.7 578,470C577.2,453.3 569.7,425 580,410Z" fill="#cdd9ec"/>
<path d="M790,345C797.5,341.3 824.7,340.5 840,340C855.3,339.5 876,337.8 882,342C888,346.2 886.3,360 876,365C865.7,370 833.5,372.5 820,372C806.5,371.5 800,366.5 795,362C790,357.5 782.5,348.7 790,345Z" fill="#cdd9ec"/>
<path d="M980,395C984.2,386.7 1006.7,381.7 1020,380C1033.3,378.3 1048.7,380 1060,385C1071.3,390 1086,401.7 1088,410C1090,418.3 1081.7,428.8 1072,435C1062.3,441.2 1042.8,447.8 1030,447C1017.2,446.2 1003.3,438.7 995,430C986.7,421.3 975.8,403.3 980,395Z" fill="#cdd9ec"/>
<ellipse cx="538" cy="588" rx="16" ry="12" transform="rotate(0 538 588)" fill="#cdd9ec"/>
<ellipse cx="600" cy="568" rx="18" ry="22" transform="rotate(0 600 568)" fill="#cdd9ec"/>
<ellipse cx="1182" cy="557" rx="20" ry="18" transform="rotate(0 1182 557)" fill="#cdd9ec"/>
<ellipse cx="985" cy="588" rx="10" ry="14" transform="rotate(0 985 588)" fill="#cdd9ec"/>
<ellipse cx="1112" cy="508" rx="5" ry="5" transform="rotate(0 1112 508)" fill="#cdd9ec"/>
<ellipse cx="876" cy="562" rx="4" ry="5" transform="rotate(0 876 562)" fill="#cdd9ec"/>
</g>
</g>
<path d="M93,650 L93,152 L300,66.3 L407,20.2 C438,5 466,3.5 493,3.5 C516,3.5 530,5.5 544,11.5 L580,27 L618.5,43.3 L716,82.5 L877,148 Q884,151 890,152 L890,650 Z" fill="none" stroke="#000" stroke-width="3.1" stroke-linejoin="miter"/>
<line x1="82.4" y1="153" x2="93" y2="153" stroke="#000" stroke-width="2.6"/>
<line x1="82.4" y1="252.4" x2="93" y2="252.4" stroke="#000" stroke-width="2.6"/>
<line x1="82.4" y1="351.8" x2="93" y2="351.8" stroke="#000" stroke-width="2.6"/>
<line x1="82.4" y1="451.2" x2="93" y2="451.2" stroke="#000" stroke-width="2.6"/>
<line x1="82.4" y1="550.6" x2="93" y2="550.6" stroke="#000" stroke-width="2.6"/>
<line x1="82.4" y1="650" x2="93" y2="650" stroke="#000" stroke-width="2.6"/>
<path d="M963.8,650 L963.8,152 L1170.8,66.3 L1277.8,20.2 C1308.8,5 1336.8,3.5 1363.8,3.5 C1386.8,3.5 1400.8,5.5 1414.8,11.5 L1450.8,27 L1489.2,43.3 L1586.8,82.5 L1747.8,148 Q1754.8,151 1760.8,152 L1760.8,650 Z" fill="none" stroke="#000" stroke-width="3.1" stroke-linejoin="miter"/>
<text x="84.4" y="68" font-size="93.5" text-anchor="start">(a)</text>
<text x="956.6" y="68" font-size="93.5" text-anchor="start">(b)</text>
<text x="84.9" y="930.5" font-size="93.5" text-anchor="start">(c)</text>
<text x="957.1" y="930.5" font-size="93.5" text-anchor="start">(d)</text>
<text x="61.5" y="174.6" font-size="39" text-anchor="middle" transform="translate(0,174.6) scale(1,1.06) translate(0,-174.6)">0</text>
<text x="60.8" y="663.5" font-size="39" text-anchor="middle" transform="translate(0,663.5) scale(1,1.06) translate(0,-663.5)">5</text>
<text x="0" y="0" font-size="36.5" text-anchor="middle" transform="translate(26.5,240) rotate(-90)">Depth (km)</text>
<text x="212.7" y="726.2" font-size="47.6">Total metal content (kg/m<tspan dy="-21" font-size="32">3</tspan><tspan dy="21">)</tspan></text>
<rect x="269.3" y="746.6" width="46.6" height="41.4" fill="#3b4cc0"/>
<rect x="315.4" y="746.6" width="46.6" height="41.4" fill="#5d7ce6"/>
<rect x="361.6" y="746.6" width="46.6" height="41.4" fill="#82a6fb"/>
<rect x="407.7" y="746.6" width="46.6" height="41.4" fill="#aac7fd"/>
<rect x="453.8" y="746.6" width="46.6" height="41.4" fill="#cdd9ec"/>
<rect x="500" y="746.6" width="46.6" height="41.4" fill="#ead4c8"/>
<rect x="546.1" y="746.6" width="46.6" height="41.4" fill="#f7b89c"/>
<rect x="592.2" y="746.6" width="46.6" height="41.4" fill="#f18d6f"/>
<rect x="638.3" y="746.6" width="46.6" height="41.4" fill="#d95847"/>
<rect x="684.5" y="746.6" width="46.1" height="41.4" fill="#b40426"/>
<rect x="269.3" y="746.6" width="461.3" height="41.4" fill="none" stroke="#000" stroke-width="2.2"/>
<text x="272.6" y="837.3" font-size="47.5" text-anchor="middle" transform="translate(0,837.3) scale(1,1.05) translate(0,-837.3)">0</text>
<text x="733.2" y="837.3" font-size="47.5" text-anchor="middle" transform="translate(0,837.3) scale(1,1.05) translate(0,-837.3)">4</text>
<text x="1084.8" y="726.2" font-size="47.6">Total metal content (kg/m<tspan dy="-21" font-size="32">3</tspan><tspan dy="21">)</tspan></text>
<rect x="1141.5" y="746.6" width="46.6" height="41.4" fill="#3b4cc0"/>
<rect x="1187.6" y="746.6" width="46.6" height="41.4" fill="#5d7ce6"/>
<rect x="1233.7" y="746.6" width="46.6" height="41.4" fill="#82a6fb"/>
<rect x="1279.8" y="746.6" width="46.6" height="41.4" fill="#aac7fd"/>
<rect x="1326" y="746.6" width="46.6" height="41.4" fill="#cdd9ec"/>
<rect x="1372.1" y="746.6" width="46.6" height="41.4" fill="#ead4c8"/>
<rect x="1418.2" y="746.6" width="46.6" height="41.4" fill="#f7b89c"/>
<rect x="1464.4" y="746.6" width="46.6" height="41.4" fill="#f18d6f"/>
<rect x="1510.5" y="746.6" width="46.6" height="41.4" fill="#d95847"/>
<rect x="1556.6" y="746.6" width="46.1" height="41.4" fill="#b40426"/>
<rect x="1141.5" y="746.6" width="461.3" height="41.4" fill="none" stroke="#000" stroke-width="2.2"/>
<text x="1144.8" y="837.3" font-size="47.5" text-anchor="middle" transform="translate(0,837.3) scale(1,1.05) translate(0,-837.3)">0</text>
<text x="1605.3" y="837.3" font-size="47.5" text-anchor="middle" transform="translate(0,837.3) scale(1,1.05) translate(0,-837.3)">3.5</text>
<line x1="91" y1="2072" x2="890.5" y2="2072" stroke="#000" stroke-width="3"/>
<line x1="92.5" y1="2071" x2="92.5" y2="2083" stroke="#000" stroke-width="2.8"/>
<line x1="192.1" y1="2071" x2="192.1" y2="2083" stroke="#000" stroke-width="2.8"/>
<line x1="291.6" y1="2071" x2="291.6" y2="2083" stroke="#000" stroke-width="2.8"/>
<line x1="391.2" y1="2071" x2="391.2" y2="2083" stroke="#000" stroke-width="2.8"/>
<line x1="490.8" y1="2071" x2="490.8" y2="2083" stroke="#000" stroke-width="2.8"/>
<line x1="590.3" y1="2071" x2="590.3" y2="2083" stroke="#000" stroke-width="2.8"/>
<line x1="689.9" y1="2071" x2="689.9" y2="2083" stroke="#000" stroke-width="2.8"/>
<line x1="789.4" y1="2071" x2="789.4" y2="2083" stroke="#000" stroke-width="2.8"/>
<line x1="889" y1="2071" x2="889" y2="2083" stroke="#000" stroke-width="2.8"/>
<text x="92.8" y="2122.5" font-size="40" text-anchor="middle">4</text>
<text x="491" y="2122.5" font-size="40" text-anchor="middle">0</text>
<text x="889" y="2122.5" font-size="40" text-anchor="middle">4</text>
<text x="490.9" y="2162" font-size="36.7" text-anchor="middle">Distance (km)</text>
<text x="499.6" y="2235.5" font-size="47.6" text-anchor="middle">i/(Cu+Pb+Zn)</text>
<rect x="269.3" y="2265.5" width="46.6" height="41.1" fill="#3b4cc0"/>
<rect x="315.4" y="2265.5" width="46.6" height="41.1" fill="#5d7ce6"/>
<rect x="361.6" y="2265.5" width="46.6" height="41.1" fill="#82a6fb"/>
<rect x="407.7" y="2265.5" width="46.6" height="41.1" fill="#aac7fd"/>
<rect x="453.8" y="2265.5" width="46.6" height="41.1" fill="#cdd9ec"/>
<rect x="500" y="2265.5" width="46.6" height="41.1" fill="#ead4c8"/>
<rect x="546.1" y="2265.5" width="46.6" height="41.1" fill="#f7b89c"/>
<rect x="592.2" y="2265.5" width="46.6" height="41.1" fill="#f18d6f"/>
<rect x="638.3" y="2265.5" width="46.6" height="41.1" fill="#d95847"/>
<rect x="684.5" y="2265.5" width="46.1" height="41.1" fill="#b40426"/>
<rect x="269.3" y="2265.5" width="461.3" height="41.1" fill="none" stroke="#000" stroke-width="2.2"/>
<text x="272.6" y="2356" font-size="47.5" text-anchor="middle" transform="translate(0,2356) scale(1,1.05) translate(0,-2356)">0</text>
<text x="733.2" y="2356" font-size="47.5" text-anchor="middle" transform="translate(0,2356) scale(1,1.05) translate(0,-2356)">1</text>
<line x1="961.8" y1="2072" x2="1761.2" y2="2072" stroke="#000" stroke-width="3"/>
<line x1="963.2" y1="2071" x2="963.2" y2="2083" stroke="#000" stroke-width="2.8"/>
<line x1="1062.8" y1="2071" x2="1062.8" y2="2083" stroke="#000" stroke-width="2.8"/>
<line x1="1162.4" y1="2071" x2="1162.4" y2="2083" stroke="#000" stroke-width="2.8"/>
<line x1="1261.9" y1="2071" x2="1261.9" y2="2083" stroke="#000" stroke-width="2.8"/>
<line x1="1361.5" y1="2071" x2="1361.5" y2="2083" stroke="#000" stroke-width="2.8"/>
<line x1="1461.1" y1="2071" x2="1461.1" y2="2083" stroke="#000" stroke-width="2.8"/>
<line x1="1560.6" y1="2071" x2="1560.6" y2="2083" stroke="#000" stroke-width="2.8"/>
<line x1="1660.2" y1="2071" x2="1660.2" y2="2083" stroke="#000" stroke-width="2.8"/>
<line x1="1759.8" y1="2071" x2="1759.8" y2="2083" stroke="#000" stroke-width="2.8"/>
<text x="963.5" y="2122.5" font-size="40" text-anchor="middle">4</text>
<text x="1361.8" y="2122.5" font-size="40" text-anchor="middle">0</text>
<text x="1759.8" y="2122.5" font-size="40" text-anchor="middle">4</text>
<text x="1361.7" y="2162" font-size="36.7" text-anchor="middle">Distance (km)</text>
<text x="1370.3" y="2235.5" font-size="47.6" text-anchor="middle">i/(Cu+Pb+Zn)</text>
<rect x="1141.5" y="2265.5" width="46.6" height="41.1" fill="#3b4cc0"/>
<rect x="1187.6" y="2265.5" width="46.6" height="41.1" fill="#5d7ce6"/>
<rect x="1233.7" y="2265.5" width="46.6" height="41.1" fill="#82a6fb"/>
<rect x="1279.8" y="2265.5" width="46.6" height="41.1" fill="#aac7fd"/>
<rect x="1326" y="2265.5" width="46.6" height="41.1" fill="#cdd9ec"/>
<rect x="1372.1" y="2265.5" width="46.6" height="41.1" fill="#ead4c8"/>
<rect x="1418.2" y="2265.5" width="46.6" height="41.1" fill="#f7b89c"/>
<rect x="1464.4" y="2265.5" width="46.6" height="41.1" fill="#f18d6f"/>
<rect x="1510.5" y="2265.5" width="46.6" height="41.1" fill="#d95847"/>
<rect x="1556.6" y="2265.5" width="46.1" height="41.1" fill="#b40426"/>
<rect x="1141.5" y="2265.5" width="461.3" height="41.1" fill="none" stroke="#000" stroke-width="2.2"/>
<text x="1144.8" y="2356" font-size="47.5" text-anchor="middle" transform="translate(0,2356) scale(1,1.05) translate(0,-2356)">0</text>
<text x="1605.3" y="2356" font-size="47.5" text-anchor="middle" transform="translate(0,2356) scale(1,1.05) translate(0,-2356)">1</text>
<text x="846.5" y="1245.8" font-size="79.3" text-anchor="start">Zinc</text>
<text x="841.9" y="1614" font-size="78.2" text-anchor="start">Lead</text>
<text x="799.2" y="1966" font-size="78.2" text-anchor="start">Copper</text>
</svg></body></html>
